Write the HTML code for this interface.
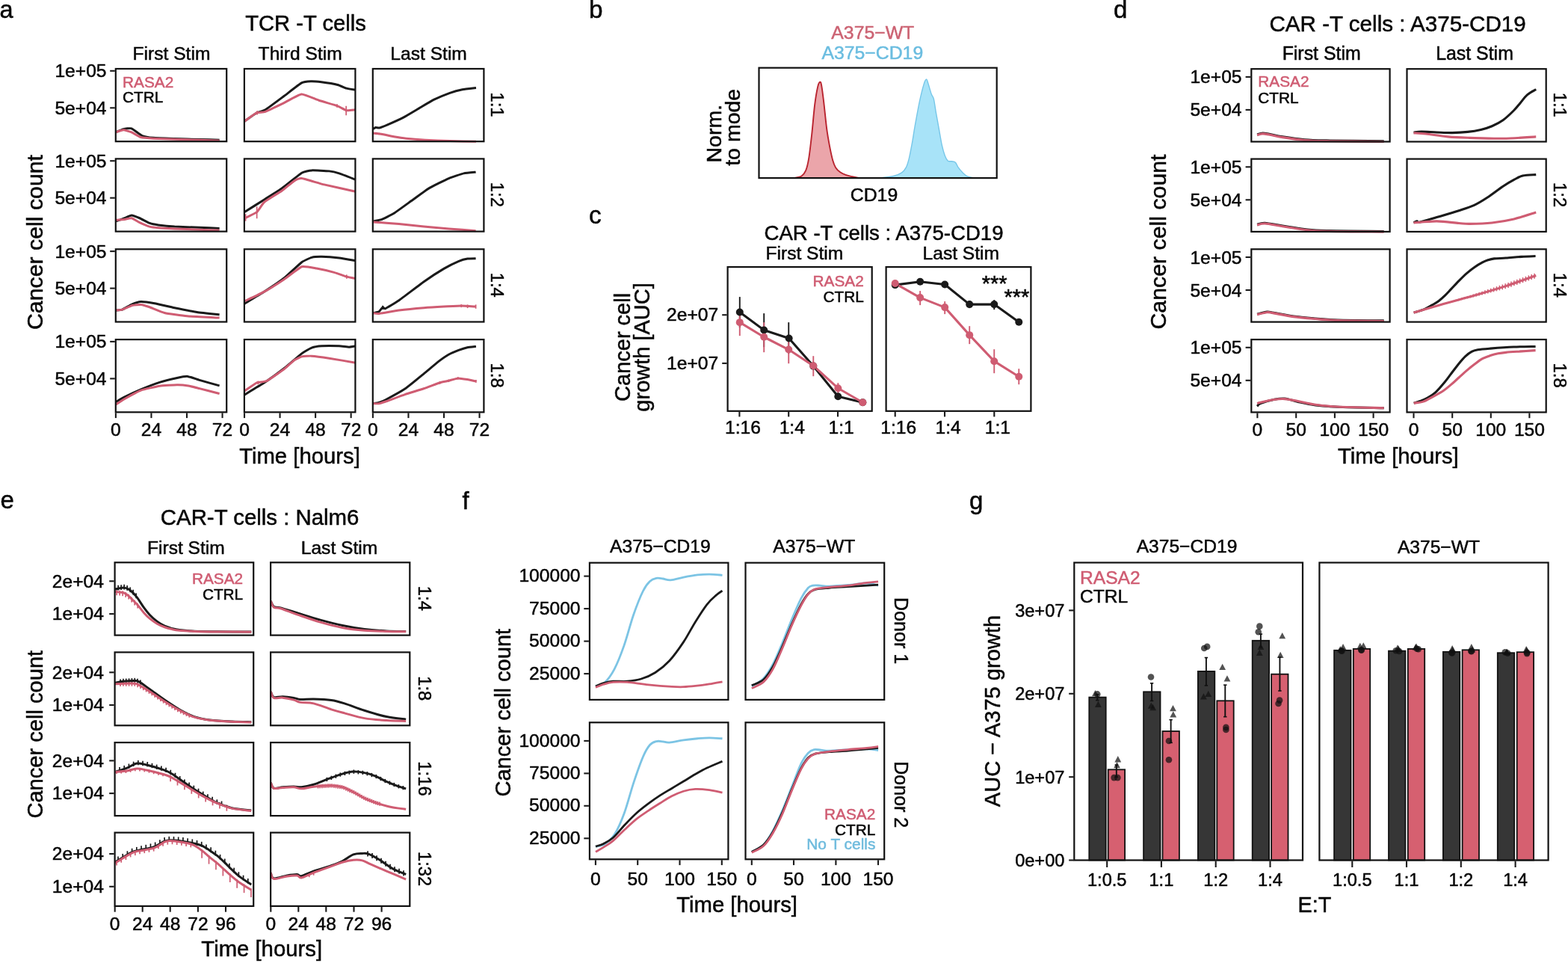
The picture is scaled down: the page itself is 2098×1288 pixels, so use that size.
<!DOCTYPE html>
<html lang="en">
<head>
<meta charset="utf-8">
<title>Figure</title>
<style>
html,body{margin:0;padding:0;background:#fff;}
body{width:2098px;height:1288px;overflow:hidden;}
svg{display:block;font-family:'Liberation Sans', sans-serif;}
text{white-space:pre;}
</style>
</head>
<body>
<svg width="2098" height="1288" viewBox="0 0 2098 1288">
<rect x="0" y="0" width="2098" height="1288" fill="#ffffff"/>
<!-- panel a -->
<text x="-0.6" y="24.1" font-size="32.5" text-anchor="start" fill="#050505" stroke="#050505" stroke-width="0.5">a</text>
<text x="409" y="41" font-size="29.2" text-anchor="middle" fill="#050505" stroke="#050505" stroke-width="0.5">TCR -T cells</text>
<text x="229.5" y="79.8" font-size="24.6" text-anchor="middle" fill="#050505" stroke="#050505" stroke-width="0.5">First Stim</text>
<text x="401.65" y="79.8" font-size="24.6" text-anchor="middle" fill="#050505" stroke="#050505" stroke-width="0.5">Third Stim</text>
<text x="573.6" y="79.8" font-size="24.6" text-anchor="middle" fill="#050505" stroke="#050505" stroke-width="0.5">Last Stim</text>
<line x1="147.2" y1="94.8" x2="153.8" y2="94.8" stroke="#1a1a1a" stroke-width="2.1"/>
<text x="142.5" y="103.3" font-size="24.6" text-anchor="end" fill="#050505" stroke="#050505" stroke-width="0.5">1e+05</text>
<line x1="147.2" y1="144.3" x2="153.8" y2="144.3" stroke="#1a1a1a" stroke-width="2.1"/>
<text x="142.5" y="152.8" font-size="24.6" text-anchor="end" fill="#050505" stroke="#050505" stroke-width="0.5">5e+04</text>
<text x="657.2" y="140" font-size="23.8" text-anchor="middle" fill="#050505" stroke="#050505" stroke-width="0.5" transform="rotate(90 657.2 140)">1:1</text>
<line x1="147.2" y1="215.2" x2="153.8" y2="215.2" stroke="#1a1a1a" stroke-width="2.1"/>
<text x="142.5" y="223.7" font-size="24.6" text-anchor="end" fill="#050505" stroke="#050505" stroke-width="0.5">1e+05</text>
<line x1="147.2" y1="264.7" x2="153.8" y2="264.7" stroke="#1a1a1a" stroke-width="2.1"/>
<text x="142.5" y="273.2" font-size="24.6" text-anchor="end" fill="#050505" stroke="#050505" stroke-width="0.5">5e+04</text>
<text x="657.2" y="260.4" font-size="23.8" text-anchor="middle" fill="#050505" stroke="#050505" stroke-width="0.5" transform="rotate(90 657.2 260.4)">1:2</text>
<line x1="147.2" y1="336.1" x2="153.8" y2="336.1" stroke="#1a1a1a" stroke-width="2.1"/>
<text x="142.5" y="344.6" font-size="24.6" text-anchor="end" fill="#050505" stroke="#050505" stroke-width="0.5">1e+05</text>
<line x1="147.2" y1="385.6" x2="153.8" y2="385.6" stroke="#1a1a1a" stroke-width="2.1"/>
<text x="142.5" y="394.1" font-size="24.6" text-anchor="end" fill="#050505" stroke="#050505" stroke-width="0.5">5e+04</text>
<text x="657.2" y="381.3" font-size="23.8" text-anchor="middle" fill="#050505" stroke="#050505" stroke-width="0.5" transform="rotate(90 657.2 381.3)">1:4</text>
<line x1="147.2" y1="456.9" x2="153.8" y2="456.9" stroke="#1a1a1a" stroke-width="2.1"/>
<text x="142.5" y="465.4" font-size="24.6" text-anchor="end" fill="#050505" stroke="#050505" stroke-width="0.5">1e+05</text>
<line x1="147.2" y1="506.4" x2="153.8" y2="506.4" stroke="#1a1a1a" stroke-width="2.1"/>
<text x="142.5" y="514.9" font-size="24.6" text-anchor="end" fill="#050505" stroke="#050505" stroke-width="0.5">5e+04</text>
<text x="657.2" y="502.1" font-size="23.8" text-anchor="middle" fill="#050505" stroke="#050505" stroke-width="0.5" transform="rotate(90 657.2 502.1)">1:8</text>
<line x1="154.9" y1="552.3" x2="154.9" y2="559.1" stroke="#1a1a1a" stroke-width="2.1"/>
<text x="154.9" y="583.3" font-size="24.6" text-anchor="middle" fill="#050505" stroke="#050505" stroke-width="0.5">0</text>
<line x1="202.45" y1="552.3" x2="202.45" y2="559.1" stroke="#1a1a1a" stroke-width="2.1"/>
<text x="202.45" y="583.3" font-size="24.6" text-anchor="middle" fill="#050505" stroke="#050505" stroke-width="0.5">24</text>
<line x1="250" y1="552.3" x2="250" y2="559.1" stroke="#1a1a1a" stroke-width="2.1"/>
<text x="250" y="583.3" font-size="24.6" text-anchor="middle" fill="#050505" stroke="#050505" stroke-width="0.5">48</text>
<line x1="297.55" y1="552.3" x2="297.55" y2="559.1" stroke="#1a1a1a" stroke-width="2.1"/>
<text x="297.55" y="583.3" font-size="24.6" text-anchor="middle" fill="#050505" stroke="#050505" stroke-width="0.5">72</text>
<line x1="327" y1="552.3" x2="327" y2="559.1" stroke="#1a1a1a" stroke-width="2.1"/>
<text x="327" y="583.3" font-size="24.6" text-anchor="middle" fill="#050505" stroke="#050505" stroke-width="0.5">0</text>
<line x1="374.55" y1="552.3" x2="374.55" y2="559.1" stroke="#1a1a1a" stroke-width="2.1"/>
<text x="374.55" y="583.3" font-size="24.6" text-anchor="middle" fill="#050505" stroke="#050505" stroke-width="0.5">24</text>
<line x1="422.1" y1="552.3" x2="422.1" y2="559.1" stroke="#1a1a1a" stroke-width="2.1"/>
<text x="422.1" y="583.3" font-size="24.6" text-anchor="middle" fill="#050505" stroke="#050505" stroke-width="0.5">48</text>
<line x1="469.65" y1="552.3" x2="469.65" y2="559.1" stroke="#1a1a1a" stroke-width="2.1"/>
<text x="469.65" y="583.3" font-size="24.6" text-anchor="middle" fill="#050505" stroke="#050505" stroke-width="0.5">72</text>
<line x1="498.9" y1="552.3" x2="498.9" y2="559.1" stroke="#1a1a1a" stroke-width="2.1"/>
<text x="498.9" y="583.3" font-size="24.6" text-anchor="middle" fill="#050505" stroke="#050505" stroke-width="0.5">0</text>
<line x1="546.45" y1="552.3" x2="546.45" y2="559.1" stroke="#1a1a1a" stroke-width="2.1"/>
<text x="546.45" y="583.3" font-size="24.6" text-anchor="middle" fill="#050505" stroke="#050505" stroke-width="0.5">24</text>
<line x1="594" y1="552.3" x2="594" y2="559.1" stroke="#1a1a1a" stroke-width="2.1"/>
<text x="594" y="583.3" font-size="24.6" text-anchor="middle" fill="#050505" stroke="#050505" stroke-width="0.5">48</text>
<line x1="641.55" y1="552.3" x2="641.55" y2="559.1" stroke="#1a1a1a" stroke-width="2.1"/>
<text x="641.55" y="583.3" font-size="24.6" text-anchor="middle" fill="#050505" stroke="#050505" stroke-width="0.5">72</text>
<text x="401" y="620.3" font-size="29.3" text-anchor="middle" fill="#050505" stroke="#050505" stroke-width="0.5">Time [hours]</text>
<text x="56.8" y="324" font-size="30.3" text-anchor="middle" fill="#050505" stroke="#050505" stroke-width="0.5" transform="rotate(-90 56.8 324)">Cancer cell count</text>
<text x="164" y="116.5" font-size="20.8" text-anchor="start" fill="#cf5c72" stroke="#cf5c72" stroke-width="0.5">RASA2</text>
<text x="164" y="137.2" font-size="20.8" text-anchor="start" fill="#050505" stroke="#050505" stroke-width="0.5">CTRL</text>
<path d="M155.15,176.84 C155.88,176.53 163.63,173.03 165.16,172.66 C166.69,172.3 174.17,171.18 176,171.83 C177.84,172.48 188.04,180.59 190.18,181.51 C192.32,182.42 202.01,184.05 205.2,184.34 C208.38,184.64 229.03,185.35 233.56,185.51 C238.08,185.67 262.52,186.39 266.92,186.51 C271.33,186.63 291.66,187.13 293.61,187.18" fill="none" stroke="#1a1a1a" stroke-width="3" stroke-linejoin="round" stroke-linecap="butt"/>
<path d="M155.15,176.84 C155.88,176.61 163.63,173.83 165.16,173.83 C166.69,173.83 174.29,176.13 176,176.84 C177.71,177.54 186.37,182.9 188.51,183.51 C190.65,184.12 201.89,184.97 205.2,185.18 C208.5,185.38 229.03,186.19 233.56,186.34 C238.08,186.5 262.52,187.21 266.92,187.35 C271.33,187.48 291.66,188.12 293.61,188.18" fill="none" stroke="#cf5c72" stroke-width="3" stroke-linejoin="round" stroke-linecap="butt"/>
<path d="M327.18,162.15 C328.37,161.33 341.32,152.1 343.37,150.98 C345.41,149.85 352.35,148.46 355.04,146.81 C357.73,145.15 376.52,131.09 380.07,128.46 C383.61,125.83 400.79,112.38 403.42,110.94 C406.05,109.5 413.98,108.86 415.93,108.77 C417.89,108.68 427.48,109.43 430.11,109.77 C432.74,110.11 449.35,112.83 451.8,113.44 C454.25,114.05 461.77,117.62 463.48,118.11 C465.19,118.6 474.3,119.97 475.16,120.11" fill="none" stroke="#1a1a1a" stroke-width="3" stroke-linejoin="round" stroke-linecap="butt"/>
<path d="M327.18,162.15 C328.37,161.33 341.32,151.92 343.37,150.98 C345.41,150.04 352.35,150.29 355.04,149.31 C357.73,148.33 376.52,139.34 380.07,137.63 C383.61,135.92 400,126.2 403.42,125.95 C406.85,125.71 423.23,133.13 426.78,134.29 C430.33,135.46 449.11,140.82 451.8,141.8 C454.49,142.78 461.77,147.27 463.48,147.64 C465.19,148.01 474.3,146.87 475.16,146.81" fill="none" stroke="#cf5c72" stroke-width="3" stroke-linejoin="round" stroke-linecap="butt"/>
<line x1="344.2" y1="148.14" x2="344.2" y2="153.48" stroke="#cf5c72" stroke-width="1.7"/>
<line x1="450.97" y1="139.3" x2="450.97" y2="143.8" stroke="#cf5c72" stroke-width="1.7"/>
<line x1="463.15" y1="141.8" x2="463.15" y2="154.31" stroke="#cf5c72" stroke-width="1.7"/>
<path d="M499.01,172.66 C499.28,172.51 502.05,170.62 502.68,170.5 C503.32,170.37 506.53,171.27 507.69,171 C508.85,170.73 516.15,167.87 518.53,166.83 C520.92,165.79 537.16,158.41 540.22,156.82 C543.28,155.23 557.3,146.85 560.24,145.14 C563.17,143.43 577.2,134.99 580.26,133.46 C583.32,131.93 599.13,125.29 601.94,124.29 C604.76,123.28 616.06,120.27 618.63,119.78 C621.2,119.29 635.63,117.77 636.98,117.61" fill="none" stroke="#1a1a1a" stroke-width="3" stroke-linejoin="round" stroke-linecap="butt"/>
<path d="M499.01,178.17 C499.83,178.26 508.15,179.01 510.19,179.34 C512.23,179.67 524.43,182.25 526.87,182.67 C529.32,183.1 540.5,184.85 543.56,185.18 C546.61,185.51 564.3,186.93 568.58,187.18 C572.86,187.42 596.93,188.35 601.94,188.51 C606.96,188.67 634.41,189.29 636.98,189.35" fill="none" stroke="#cf5c72" stroke-width="3" stroke-linejoin="round" stroke-linecap="butt"/>
<line x1="503.52" y1="176.84" x2="503.52" y2="180.17" stroke="#cf5c72" stroke-width="1.7"/>
<path d="M155.15,295.92 C156,295.62 165.3,292.33 166.83,291.75 C168.35,291.18 174.53,288.08 176,288.08 C177.47,288.08 185.07,291 186.84,291.75 C188.62,292.51 198.36,297.75 200.19,298.43 C202.03,299.1 209.42,300.59 211.87,300.93 C214.32,301.27 229.52,302.85 233.56,303.1 C237.59,303.34 262.52,304.09 266.92,304.27 C271.33,304.44 291.66,305.35 293.61,305.43" fill="none" stroke="#1a1a1a" stroke-width="3" stroke-linejoin="round" stroke-linecap="butt"/>
<path d="M155.15,294.26 C156,294.2 165.3,293.61 166.83,293.42 C168.35,293.24 174.53,291.45 176,291.75 C177.47,292.06 185.07,296.76 186.84,297.59 C188.62,298.42 198.36,302.57 200.19,303.1 C202.03,303.62 209.42,304.56 211.87,304.77 C214.32,304.97 229.52,305.75 233.56,305.93 C237.59,306.12 262.52,307.11 266.92,307.27 C271.33,307.43 291.66,308.04 293.61,308.1" fill="none" stroke="#cf5c72" stroke-width="3" stroke-linejoin="round" stroke-linecap="butt"/>
<path d="M327.31,283.6 C329.24,282.38 350.02,269.25 353.67,266.92 C357.32,264.6 373.36,254.52 377.03,251.91 C380.7,249.29 400.78,232.98 403.72,231.22 C406.65,229.46 414.37,228.05 417.06,227.88 C419.76,227.71 437.73,228.59 440.42,228.88 C443.11,229.18 451.17,231.06 453.77,231.89 C456.36,232.72 474.17,239.62 475.79,240.23" fill="none" stroke="#1a1a1a" stroke-width="3" stroke-linejoin="round" stroke-linecap="butt"/>
<path d="M327.31,291.94 C328.51,291.33 341.73,285.19 343.66,283.6 C345.59,282.01 351.22,272.34 353.67,270.26 C356.12,268.18 374.09,257.32 377.03,255.24 C379.96,253.16 391.75,243.12 393.71,241.9 C395.67,240.67 400.78,238.19 403.72,238.56 C406.65,238.93 428.46,245.61 433.75,246.9 C439.03,248.2 472.7,255.56 475.79,256.24" fill="none" stroke="#cf5c72" stroke-width="3" stroke-linejoin="round" stroke-linecap="butt"/>
<line x1="328.65" y1="286.27" x2="328.65" y2="295.61" stroke="#cf5c72" stroke-width="1.7"/>
<line x1="343.66" y1="276.26" x2="343.66" y2="292.28" stroke="#cf5c72" stroke-width="1.7"/>
<path d="M499.48,295.95 C500.28,295.78 508.46,294.4 510.49,293.61 C512.52,292.83 524.23,287.11 527.17,285.27 C530.1,283.44 547.1,271.04 550.52,268.59 C553.95,266.14 570.21,254.11 573.88,251.91 C577.55,249.7 597.15,240.03 600.57,238.56 C604,237.09 617.95,232.5 620.59,231.89 C623.23,231.28 635.43,230.34 636.61,230.22" fill="none" stroke="#1a1a1a" stroke-width="3" stroke-linejoin="round" stroke-linecap="butt"/>
<path d="M499.48,296.95 C502,297.15 528.87,299.18 533.84,299.62 C538.81,300.06 562.31,302.49 567.21,302.96 C572.1,303.42 595.48,305.54 600.57,305.96 C605.66,306.37 633.96,308.43 636.61,308.63" fill="none" stroke="#cf5c72" stroke-width="3" stroke-linejoin="round" stroke-linecap="butt"/>
<path d="M154.81,415.11 C155.45,415.04 161.87,414.72 163.49,414.11 C165.1,413.5 175,407.55 176.84,406.77 C178.67,405.99 186.31,403.51 188.51,403.43 C190.71,403.36 203.56,405.16 206.86,405.77 C210.17,406.38 229.4,410.92 233.56,411.77 C237.72,412.63 259.18,416.78 263.58,417.45 C267.99,418.11 291.41,420.54 293.61,420.78" fill="none" stroke="#1a1a1a" stroke-width="3" stroke-linejoin="round" stroke-linecap="butt"/>
<path d="M154.81,415.11 C155.45,415.04 161.87,414.6 163.49,414.11 C165.1,413.62 175,408.93 176.84,408.44 C178.67,407.95 186.8,407.26 188.51,407.44 C190.23,407.61 197.87,409.96 200.19,410.77 C202.52,411.58 216.54,417.57 220.21,418.45 C223.88,419.33 244.86,422.29 250.24,422.78 C255.62,423.27 290.43,424.95 293.61,425.12" fill="none" stroke="#cf5c72" stroke-width="3" stroke-linejoin="round" stroke-linecap="butt"/>
<path d="M327.31,406.1 C329.24,404.93 349.78,392.61 353.67,390.09 C357.56,387.57 376.69,374.62 380.36,371.73 C384.03,368.85 401.03,352.72 403.72,350.71 C406.41,348.71 415.11,344.91 417.06,344.38 C419.02,343.84 427.72,343.33 430.41,343.37 C433.1,343.42 450.44,344.65 453.77,345.04 C457.09,345.43 474.17,348.44 475.79,348.71" fill="none" stroke="#1a1a1a" stroke-width="3" stroke-linejoin="round" stroke-linecap="butt"/>
<path d="M327.31,402.76 C329.24,401.83 349.78,392.24 353.67,390.09 C357.56,387.93 376.69,375.85 380.36,373.4 C384.03,370.96 400.54,357.77 403.72,356.72 C406.9,355.67 420.56,358.49 423.74,359.06 C426.92,359.62 444.16,363.59 447.09,364.39 C450.03,365.2 461.67,369.48 463.78,370.07 C465.88,370.65 474.91,372.23 475.79,372.4" fill="none" stroke="#cf5c72" stroke-width="3" stroke-linejoin="round" stroke-linecap="butt"/>
<line x1="463.78" y1="367.4" x2="463.78" y2="372.74" stroke="#cf5c72" stroke-width="1.7"/>
<path d="M499.48,418.78 C500.04,418.63 506.22,417.37 507.15,416.78 C508.08,416.19 511.54,411.07 512.15,410.77 C512.77,410.48 513.9,413.43 515.49,412.77 C517.08,412.11 530.05,404.41 533.84,401.76 C537.63,399.12 562.8,379.85 567.21,376.74 C571.61,373.63 590.47,361.4 593.9,359.39 C597.32,357.38 611.59,350.36 613.92,349.38 C616.24,348.4 623.93,346.31 625.6,346.04 C627.26,345.77 635.8,345.73 636.61,345.71" fill="none" stroke="#1a1a1a" stroke-width="3" stroke-linejoin="round" stroke-linecap="butt"/>
<path d="M499.48,418.78 C500.04,418.83 504.63,419.72 507.15,419.45 C509.67,419.18 529.44,415.67 533.84,415.11 C538.25,414.55 562.8,412.14 567.21,411.77 C571.61,411.41 590.23,410.3 593.9,410.1 C597.57,409.91 614.12,409.1 617.25,409.1 C620.39,409.1 635.19,410.03 636.61,410.1" fill="none" stroke="#cf5c72" stroke-width="3" stroke-linejoin="round" stroke-linecap="butt"/>
<line x1="512.15" y1="408.77" x2="512.15" y2="414.11" stroke="#1a1a1a" stroke-width="1.7"/>
<line x1="617.25" y1="407.1" x2="617.25" y2="411.11" stroke="#cf5c72" stroke-width="1.7"/>
<line x1="625.6" y1="407.44" x2="625.6" y2="412.11" stroke="#cf5c72" stroke-width="1.7"/>
<line x1="636.61" y1="407.44" x2="636.61" y2="412.77" stroke="#cf5c72" stroke-width="1.7"/>
<path d="M155.15,537.61 C156,537.12 164.38,532.16 166.83,530.94 C169.27,529.72 185.09,522.36 188.51,520.93 C191.94,519.5 209.99,512.56 213.54,511.42 C217.08,510.28 234.14,506 236.89,505.41 C239.64,504.83 248.87,503.19 251.07,503.41 C253.27,503.63 263.8,507.5 266.92,508.42 C270.04,509.34 291.66,515.37 293.61,515.92" fill="none" stroke="#1a1a1a" stroke-width="3" stroke-linejoin="round" stroke-linecap="butt"/>
<path d="M155.15,540.95 C156,540.4 164.38,534.82 166.83,533.44 C169.27,532.06 185.09,523.36 188.51,522.1 C191.94,520.84 209.99,516.8 213.54,516.26 C217.08,515.72 234.08,514.78 236.89,514.76 C239.71,514.73 249.7,515.57 251.91,515.92 C254.11,516.28 263.86,518.82 266.92,519.59 C269.98,520.37 291.66,525.93 293.61,526.43" fill="none" stroke="#cf5c72" stroke-width="3" stroke-linejoin="round" stroke-linecap="butt"/>
<path d="M327.31,527.88 C329.24,526.71 349.78,514.46 353.67,511.87 C357.56,509.27 376.69,495.38 380.36,492.52 C384.03,489.65 401.03,474.84 403.72,472.83 C406.41,470.82 415.11,465.89 417.06,465.16 C419.02,464.42 427.72,462.99 430.41,462.82 C433.1,462.65 451.07,462.72 453.77,462.82 C456.46,462.92 465.5,464.16 467.11,464.16 C468.73,464.16 475.15,462.92 475.79,462.82" fill="none" stroke="#1a1a1a" stroke-width="3" stroke-linejoin="round" stroke-linecap="butt"/>
<path d="M327.31,522.88 C328.51,522.07 341.48,512.85 343.66,511.87 C345.84,510.89 354.32,510.88 357.01,509.53 C359.7,508.19 377.67,495.55 380.36,493.52 C383.05,491.49 392,483.06 393.71,481.84 C395.42,480.62 402.01,477.25 403.72,476.84 C405.43,476.42 414.37,476 417.06,476.17 C419.76,476.34 436.11,478.51 440.42,479.17 C444.73,479.83 473.19,484.74 475.79,485.18" fill="none" stroke="#cf5c72" stroke-width="3" stroke-linejoin="round" stroke-linecap="butt"/>
<line x1="345.33" y1="509.53" x2="345.33" y2="514.2" stroke="#cf5c72" stroke-width="1.7"/>
<path d="M498.98,539.78 C499.55,539.68 505.51,538.85 506.82,538.45 C508.13,538.04 514.26,535.62 516.83,534.28 C519.39,532.93 538.18,522.6 541.85,520.1 C545.52,517.59 563.57,502.77 566.87,500.08 C570.18,497.38 584.45,485.29 586.89,483.39 C589.34,481.5 598.28,475.32 600.24,474.22 C602.2,473.12 611.75,469.08 613.58,468.38 C615.42,467.68 623.55,465.08 625.26,464.71 C626.97,464.34 636.08,463.47 636.94,463.37" fill="none" stroke="#1a1a1a" stroke-width="3" stroke-linejoin="round" stroke-linecap="butt"/>
<path d="M498.98,539.78 C499.55,539.78 505.51,540 506.82,539.78 C508.13,539.56 514.26,537.67 516.83,536.78 C519.39,535.88 538.18,528.85 541.85,527.6 C545.52,526.35 563.45,520.92 566.87,519.76 C570.3,518.6 586.11,512.52 588.56,511.75 C591.01,510.98 598.46,509.68 600.24,509.25 C602.01,508.82 610.92,506.04 612.75,505.92 C614.59,505.79 623.49,507.28 625.26,507.58 C627.04,507.89 636.08,509.9 636.94,510.09" fill="none" stroke="#cf5c72" stroke-width="3" stroke-linejoin="round" stroke-linecap="butt"/>
<line x1="588.56" y1="510.09" x2="588.56" y2="513.76" stroke="#cf5c72" stroke-width="1.7"/>
<line x1="600.24" y1="507.58" x2="600.24" y2="511.09" stroke="#cf5c72" stroke-width="1.7"/>
<line x1="612.75" y1="504.25" x2="612.75" y2="507.58" stroke="#cf5c72" stroke-width="1.7"/>
<line x1="636.94" y1="508.08" x2="636.94" y2="511.75" stroke="#cf5c72" stroke-width="1.7"/>
<rect x="154.8" y="92" width="148.4" height="97.2" fill="none" stroke="#111111" stroke-width="2.2"/>
<rect x="326.9" y="92" width="148.5" height="97.2" fill="none" stroke="#111111" stroke-width="2.2"/>
<rect x="498.8" y="92" width="148.6" height="97.2" fill="none" stroke="#111111" stroke-width="2.2"/>
<rect x="154.8" y="212.4" width="148.4" height="97.2" fill="none" stroke="#111111" stroke-width="2.2"/>
<rect x="326.9" y="212.4" width="148.5" height="97.2" fill="none" stroke="#111111" stroke-width="2.2"/>
<rect x="498.8" y="212.4" width="148.6" height="97.2" fill="none" stroke="#111111" stroke-width="2.2"/>
<rect x="154.8" y="333.3" width="148.4" height="97.2" fill="none" stroke="#111111" stroke-width="2.2"/>
<rect x="326.9" y="333.3" width="148.5" height="97.2" fill="none" stroke="#111111" stroke-width="2.2"/>
<rect x="498.8" y="333.3" width="148.6" height="97.2" fill="none" stroke="#111111" stroke-width="2.2"/>
<rect x="154.8" y="454.1" width="148.4" height="97.2" fill="none" stroke="#111111" stroke-width="2.2"/>
<rect x="326.9" y="454.1" width="148.5" height="97.2" fill="none" stroke="#111111" stroke-width="2.2"/>
<rect x="498.8" y="454.1" width="148.6" height="97.2" fill="none" stroke="#111111" stroke-width="2.2"/>
<!-- panel b -->
<text x="788" y="24.3" font-size="33.3" text-anchor="start" fill="#050505" stroke="#050505" stroke-width="0.5">b</text>
<text x="1167.8" y="51.6" font-size="24.8" text-anchor="middle" fill="#cc6373" stroke="#cc6373" stroke-width="0.5">A375−WT</text>
<text x="1167.3" y="79.1" font-size="24.8" text-anchor="middle" fill="#6bbde0" stroke="#6bbde0" stroke-width="0.5">A375−CD19</text>
<text x="1169.5" y="268.9" font-size="24.8" text-anchor="middle" fill="#050505" stroke="#050505" stroke-width="0.5">CD19</text>
<text x="965" y="178.7" font-size="28.5" text-anchor="middle" fill="#050505" stroke="#050505" stroke-width="0.5" transform="rotate(-90 965 178.7)">Norm.</text>
<text x="990" y="170.3" font-size="28.5" text-anchor="middle" fill="#050505" stroke="#050505" stroke-width="0.5" transform="rotate(-90 990 170.3)">to mode</text>
<path d="M1064.12,237.61 C1065.45,237.31 1069.79,237.37 1072.13,235.81 C1074.46,234.24 1076.46,232.14 1078.13,228.2 C1079.8,224.26 1080.8,220.19 1082.14,212.18 C1083.47,204.18 1084.8,192.16 1086.14,180.15 C1087.47,168.14 1088.81,150.79 1090.14,140.11 C1091.48,129.44 1092.98,121.16 1094.15,116.09 C1095.31,111.02 1096.32,110.02 1097.15,109.69 C1097.98,109.35 1098.32,109.69 1099.15,114.09 C1099.99,118.49 1100.99,126.43 1102.15,136.11 C1103.32,145.79 1104.82,162.14 1106.16,172.14 C1107.49,182.15 1108.83,189.16 1110.16,196.17 C1111.5,203.17 1112.83,209.51 1114.17,214.18 C1115.5,218.86 1116.5,221.53 1118.17,224.19 C1119.84,226.86 1121.84,228.53 1124.18,230.2 C1126.51,231.87 1129.51,233.2 1132.18,234.2 C1134.85,235.2 1137.52,235.64 1140.19,236.21 C1142.86,236.77 1146.86,237.37 1148.2,237.61" fill="#eba5aa" stroke="#b9242f" stroke-width="1.9" stroke-linejoin="round" stroke-linecap="butt" />
<path d="M1180.23,237.61 C1182.9,237.21 1191.91,236.27 1196.24,235.2 C1200.58,234.14 1203.58,233.04 1206.25,231.2 C1208.92,229.37 1210.59,227.36 1212.26,224.19 C1213.93,221.02 1214.93,217.52 1216.26,212.18 C1217.6,206.84 1218.93,199.5 1220.27,192.16 C1221.6,184.82 1222.6,177.48 1224.27,168.14 C1225.94,158.8 1228.27,145.45 1230.28,136.11 C1232.28,126.77 1234.71,117.09 1236.28,112.09 C1237.85,107.08 1238.68,105.92 1239.69,106.08 C1240.69,106.25 1241.19,109.75 1242.29,113.09 C1243.39,116.43 1245.12,122.93 1246.29,126.1 C1247.46,129.27 1248.29,128.1 1249.29,132.11 C1250.3,136.11 1251.13,143.45 1252.3,150.12 C1253.47,156.8 1254.97,164.8 1256.3,172.14 C1257.64,179.49 1258.97,188.16 1260.31,194.17 C1261.64,200.17 1262.97,204.68 1264.31,208.18 C1265.64,211.68 1266.81,213.92 1268.31,215.19 C1269.81,216.45 1271.65,215.45 1273.32,215.79 C1274.99,216.12 1276.82,215.79 1278.32,217.19 C1279.82,218.59 1280.66,221.86 1282.33,224.19 C1283.99,226.53 1286.33,229.27 1288.33,231.2 C1290.33,233.14 1292,234.74 1294.34,235.81 C1296.67,236.87 1301.01,237.31 1302.35,237.61" fill="#a8e3f8" stroke="#76c6e8" stroke-width="1.4" stroke-linejoin="round" stroke-linecap="butt"/>
<rect x="1015.5" y="90.7" width="318.2" height="147.4" fill="none" stroke="#111111" stroke-width="2.2"/>
<!-- panel c -->
<text x="788" y="299.2" font-size="33.3" text-anchor="start" fill="#050505" stroke="#050505" stroke-width="0.5">c</text>
<text x="1022.5" y="321" font-size="27.6" text-anchor="start" fill="#050505" stroke="#050505" stroke-width="0.5">CAR -T cells : A375-CD19</text>
<text x="1076.4" y="346.5" font-size="24.6" text-anchor="middle" fill="#050505" stroke="#050505" stroke-width="0.5">First Stim</text>
<text x="1285.8" y="346.5" font-size="24.6" text-anchor="middle" fill="#050505" stroke="#050505" stroke-width="0.5">Last Stim</text>
<line x1="966.2" y1="421.2" x2="972.6" y2="421.2" stroke="#1a1a1a" stroke-width="2.1"/>
<text x="961.2" y="429.1" font-size="24.6" text-anchor="end" fill="#050505" stroke="#050505" stroke-width="0.5">2e+07</text>
<line x1="966.2" y1="485.9" x2="972.6" y2="485.9" stroke="#1a1a1a" stroke-width="2.1"/>
<text x="961.2" y="493.8" font-size="24.6" text-anchor="end" fill="#050505" stroke="#050505" stroke-width="0.5">1e+07</text>
<line x1="989.4" y1="550.8" x2="989.4" y2="557.4" stroke="#1a1a1a" stroke-width="2.1"/>
<text x="994" y="579.9" font-size="24.6" text-anchor="middle" fill="#050505" stroke="#050505" stroke-width="0.5">1:16</text>
<line x1="1055.2" y1="550.8" x2="1055.2" y2="557.4" stroke="#1a1a1a" stroke-width="2.1"/>
<text x="1059.8" y="579.9" font-size="24.6" text-anchor="middle" fill="#050505" stroke="#050505" stroke-width="0.5">1:4</text>
<line x1="1121" y1="550.8" x2="1121" y2="557.4" stroke="#1a1a1a" stroke-width="2.1"/>
<text x="1125.6" y="579.9" font-size="24.6" text-anchor="middle" fill="#050505" stroke="#050505" stroke-width="0.5">1:1</text>
<line x1="1197.7" y1="550.8" x2="1197.7" y2="557.4" stroke="#1a1a1a" stroke-width="2.1"/>
<text x="1202.3" y="579.9" font-size="24.6" text-anchor="middle" fill="#050505" stroke="#050505" stroke-width="0.5">1:16</text>
<line x1="1264" y1="550.8" x2="1264" y2="557.4" stroke="#1a1a1a" stroke-width="2.1"/>
<text x="1268.6" y="579.9" font-size="24.6" text-anchor="middle" fill="#050505" stroke="#050505" stroke-width="0.5">1:4</text>
<line x1="1330.3" y1="550.8" x2="1330.3" y2="557.4" stroke="#1a1a1a" stroke-width="2.1"/>
<text x="1334.9" y="579.9" font-size="24.6" text-anchor="middle" fill="#050505" stroke="#050505" stroke-width="0.5">1:1</text>
<text x="842.8" y="464.4" font-size="29" text-anchor="middle" fill="#050505" stroke="#050505" stroke-width="0.5" transform="rotate(-90 842.8 464.4)">Cancer cell</text>
<text x="868.6" y="464.4" font-size="29" text-anchor="middle" fill="#050505" stroke="#050505" stroke-width="0.5" transform="rotate(-90 868.6 464.4)">growth [AUC]</text>
<text x="1155.8" y="382.5" font-size="20.8" text-anchor="end" fill="#cf5c72" stroke="#cf5c72" stroke-width="0.5">RASA2</text>
<text x="1155.8" y="403.8" font-size="20.8" text-anchor="end" fill="#050505" stroke="#050505" stroke-width="0.5">CTRL</text>
<text x="1330.7" y="388.8" font-size="29" text-anchor="middle" fill="#050505" stroke="#050505" stroke-width="0.5">***</text>
<text x="1360.4" y="406.8" font-size="29" text-anchor="middle" fill="#050505" stroke="#050505" stroke-width="0.5">***</text>
<line x1="989.78" y1="397.1" x2="989.78" y2="438.14" stroke="#1a1a1a" stroke-width="1.9"/>
<line x1="1022.21" y1="419.12" x2="1022.21" y2="464.17" stroke="#1a1a1a" stroke-width="1.9"/>
<line x1="1055.24" y1="431.13" x2="1055.24" y2="473.17" stroke="#1a1a1a" stroke-width="1.9"/>
<line x1="989.78" y1="414.12" x2="989.78" y2="449.15" stroke="#cf5c72" stroke-width="1.9"/>
<line x1="1022.21" y1="431.13" x2="1022.21" y2="471.17" stroke="#cf5c72" stroke-width="1.9"/>
<line x1="1055.24" y1="450.15" x2="1055.24" y2="486.19" stroke="#cf5c72" stroke-width="1.9"/>
<line x1="1088.27" y1="476.18" x2="1088.27" y2="503.2" stroke="#cf5c72" stroke-width="1.9"/>
<line x1="1121.31" y1="512.21" x2="1121.31" y2="526.22" stroke="#cf5c72" stroke-width="1.9"/>
<line x1="1297.21" y1="402.11" x2="1297.21" y2="412.12" stroke="#1a1a1a" stroke-width="1.9"/>
<line x1="1330.24" y1="401.11" x2="1330.24" y2="414.12" stroke="#1a1a1a" stroke-width="1.9"/>
<line x1="1231.14" y1="389.09" x2="1231.14" y2="408.11" stroke="#cf5c72" stroke-width="1.9"/>
<line x1="1264.18" y1="403.11" x2="1264.18" y2="420.12" stroke="#cf5c72" stroke-width="1.9"/>
<line x1="1297.21" y1="436.14" x2="1297.21" y2="460.16" stroke="#cf5c72" stroke-width="1.9"/>
<line x1="1330.24" y1="467.17" x2="1330.24" y2="499.2" stroke="#cf5c72" stroke-width="1.9"/>
<line x1="1363.27" y1="493.19" x2="1363.27" y2="514.21" stroke="#cf5c72" stroke-width="1.9"/>
<polyline points="989.78,417.52 1022.21,441.54 1055.64,452.55 1088.27,489.59 1121.31,530.23 1154.34,538.24" fill="none" stroke="#1a1a1a" stroke-width="3.1" stroke-linejoin="round" stroke-linecap="butt"/>
<polyline points="989.78,431.13 1022.21,450.75 1055.24,467.57 1088.27,489.19 1121.31,519.22 1154.34,538.24" fill="none" stroke="#cf5c72" stroke-width="3.1" stroke-linejoin="round" stroke-linecap="butt"/>
<polyline points="1197.71,381.09 1231.14,376.68 1264.18,380.49 1297.21,407.11 1330.24,407.11 1363.27,430.73" fill="none" stroke="#1a1a1a" stroke-width="3.1" stroke-linejoin="round" stroke-linecap="butt"/>
<polyline points="1197.71,379.08 1231.14,398.1 1264.18,411.12 1297.21,448.15 1330.24,483.18 1363.27,503.8" fill="none" stroke="#cf5c72" stroke-width="3.1" stroke-linejoin="round" stroke-linecap="butt"/>
<circle cx="989.78" cy="417.52" r="5" fill="#1a1a1a"/>
<circle cx="1022.21" cy="441.54" r="5" fill="#1a1a1a"/>
<circle cx="1055.64" cy="452.55" r="5" fill="#1a1a1a"/>
<circle cx="1088.27" cy="489.59" r="5" fill="#1a1a1a"/>
<circle cx="1121.31" cy="530.23" r="5" fill="#1a1a1a"/>
<circle cx="1154.34" cy="538.24" r="5" fill="#1a1a1a"/>
<circle cx="989.78" cy="431.13" r="5" fill="#cf5c72"/>
<circle cx="1022.21" cy="450.75" r="5" fill="#cf5c72"/>
<circle cx="1055.24" cy="467.57" r="5" fill="#cf5c72"/>
<circle cx="1088.27" cy="489.19" r="5" fill="#cf5c72"/>
<circle cx="1121.31" cy="519.22" r="5" fill="#cf5c72"/>
<circle cx="1154.34" cy="538.24" r="5" fill="#cf5c72"/>
<circle cx="1197.71" cy="381.09" r="5" fill="#1a1a1a"/>
<circle cx="1231.14" cy="376.68" r="5" fill="#1a1a1a"/>
<circle cx="1264.18" cy="380.49" r="5" fill="#1a1a1a"/>
<circle cx="1297.21" cy="407.11" r="5" fill="#1a1a1a"/>
<circle cx="1330.24" cy="407.11" r="5" fill="#1a1a1a"/>
<circle cx="1363.27" cy="430.73" r="5" fill="#1a1a1a"/>
<circle cx="1197.71" cy="379.08" r="5" fill="#cf5c72"/>
<circle cx="1231.14" cy="398.1" r="5" fill="#cf5c72"/>
<circle cx="1264.18" cy="411.12" r="5" fill="#cf5c72"/>
<circle cx="1297.21" cy="448.15" r="5" fill="#cf5c72"/>
<circle cx="1330.24" cy="483.18" r="5" fill="#cf5c72"/>
<circle cx="1363.27" cy="503.8" r="5" fill="#cf5c72"/>
<rect x="973.6" y="357.1" width="193.1" height="192.7" fill="none" stroke="#111111" stroke-width="2.2"/>
<rect x="1185.6" y="357.1" width="193.8" height="192.7" fill="none" stroke="#111111" stroke-width="2.2"/>
<!-- panel d -->
<text x="1490" y="23.6" font-size="33" text-anchor="start" fill="#050505" stroke="#050505" stroke-width="0.5">d</text>
<text x="1698.5" y="41.7" font-size="29.6" text-anchor="start" fill="#050505" stroke="#050505" stroke-width="0.5">CAR -T cells : A375-CD19</text>
<text x="1768.2" y="80.1" font-size="24.9" text-anchor="middle" fill="#050505" stroke="#050505" stroke-width="0.5">First Stim</text>
<text x="1973" y="80.1" font-size="24.9" text-anchor="middle" fill="#050505" stroke="#050505" stroke-width="0.5">Last Stim</text>
<line x1="1666.6" y1="102.9" x2="1673.3" y2="102.9" stroke="#1a1a1a" stroke-width="2.1"/>
<text x="1661.5" y="111.4" font-size="24.6" text-anchor="end" fill="#050505" stroke="#050505" stroke-width="0.5">1e+05</text>
<line x1="1666.6" y1="146.9" x2="1673.3" y2="146.9" stroke="#1a1a1a" stroke-width="2.1"/>
<text x="1661.5" y="155.4" font-size="24.6" text-anchor="end" fill="#050505" stroke="#050505" stroke-width="0.5">5e+04</text>
<text x="2079" y="140.25" font-size="23.8" text-anchor="middle" fill="#050505" stroke="#050505" stroke-width="0.5" transform="rotate(90 2079 140.25)">1:1</text>
<line x1="1666.6" y1="223.3" x2="1673.3" y2="223.3" stroke="#1a1a1a" stroke-width="2.1"/>
<text x="1661.5" y="231.8" font-size="24.6" text-anchor="end" fill="#050505" stroke="#050505" stroke-width="0.5">1e+05</text>
<line x1="1666.6" y1="267.3" x2="1673.3" y2="267.3" stroke="#1a1a1a" stroke-width="2.1"/>
<text x="1661.5" y="275.8" font-size="24.6" text-anchor="end" fill="#050505" stroke="#050505" stroke-width="0.5">5e+04</text>
<text x="2079" y="260.65" font-size="23.8" text-anchor="middle" fill="#050505" stroke="#050505" stroke-width="0.5" transform="rotate(90 2079 260.65)">1:2</text>
<line x1="1666.6" y1="344" x2="1673.3" y2="344" stroke="#1a1a1a" stroke-width="2.1"/>
<text x="1661.5" y="352.5" font-size="24.6" text-anchor="end" fill="#050505" stroke="#050505" stroke-width="0.5">1e+05</text>
<line x1="1666.6" y1="388" x2="1673.3" y2="388" stroke="#1a1a1a" stroke-width="2.1"/>
<text x="1661.5" y="396.5" font-size="24.6" text-anchor="end" fill="#050505" stroke="#050505" stroke-width="0.5">5e+04</text>
<text x="2079" y="381.35" font-size="23.8" text-anchor="middle" fill="#050505" stroke="#050505" stroke-width="0.5" transform="rotate(90 2079 381.35)">1:4</text>
<line x1="1666.6" y1="464.8" x2="1673.3" y2="464.8" stroke="#1a1a1a" stroke-width="2.1"/>
<text x="1661.5" y="473.3" font-size="24.6" text-anchor="end" fill="#050505" stroke="#050505" stroke-width="0.5">1e+05</text>
<line x1="1666.6" y1="508.8" x2="1673.3" y2="508.8" stroke="#1a1a1a" stroke-width="2.1"/>
<text x="1661.5" y="517.3" font-size="24.6" text-anchor="end" fill="#050505" stroke="#050505" stroke-width="0.5">5e+04</text>
<text x="2079" y="502.15" font-size="23.8" text-anchor="middle" fill="#050505" stroke="#050505" stroke-width="0.5" transform="rotate(90 2079 502.15)">1:8</text>
<line x1="1682.4" y1="552.4" x2="1682.4" y2="559.2" stroke="#1a1a1a" stroke-width="2.1"/>
<text x="1682.4" y="583.3" font-size="24.6" text-anchor="middle" fill="#050505" stroke="#050505" stroke-width="0.5">0</text>
<line x1="1734.2" y1="552.4" x2="1734.2" y2="559.2" stroke="#1a1a1a" stroke-width="2.1"/>
<text x="1734.2" y="583.3" font-size="24.6" text-anchor="middle" fill="#050505" stroke="#050505" stroke-width="0.5">50</text>
<line x1="1785.9" y1="552.4" x2="1785.9" y2="559.2" stroke="#1a1a1a" stroke-width="2.1"/>
<text x="1785.9" y="583.3" font-size="24.6" text-anchor="middle" fill="#050505" stroke="#050505" stroke-width="0.5">100</text>
<line x1="1837.6" y1="552.4" x2="1837.6" y2="559.2" stroke="#1a1a1a" stroke-width="2.1"/>
<text x="1837.6" y="583.3" font-size="24.6" text-anchor="middle" fill="#050505" stroke="#050505" stroke-width="0.5">150</text>
<line x1="1891.5" y1="552.4" x2="1891.5" y2="559.2" stroke="#1a1a1a" stroke-width="2.1"/>
<text x="1891.5" y="583.3" font-size="24.6" text-anchor="middle" fill="#050505" stroke="#050505" stroke-width="0.5">0</text>
<line x1="1943.2" y1="552.4" x2="1943.2" y2="559.2" stroke="#1a1a1a" stroke-width="2.1"/>
<text x="1943.2" y="583.3" font-size="24.6" text-anchor="middle" fill="#050505" stroke="#050505" stroke-width="0.5">50</text>
<line x1="1994.8" y1="552.4" x2="1994.8" y2="559.2" stroke="#1a1a1a" stroke-width="2.1"/>
<text x="1994.8" y="583.3" font-size="24.6" text-anchor="middle" fill="#050505" stroke="#050505" stroke-width="0.5">100</text>
<line x1="2046.4" y1="552.4" x2="2046.4" y2="559.2" stroke="#1a1a1a" stroke-width="2.1"/>
<text x="2046.4" y="583.3" font-size="24.6" text-anchor="middle" fill="#050505" stroke="#050505" stroke-width="0.5">150</text>
<text x="1870.9" y="620.3" font-size="29.3" text-anchor="middle" fill="#050505" stroke="#050505" stroke-width="0.5">Time [hours]</text>
<text x="1560.2" y="323.5" font-size="30.3" text-anchor="middle" fill="#050505" stroke="#050505" stroke-width="0.5" transform="rotate(-90 1560.2 323.5)">Cancer cell count</text>
<text x="1683.3" y="116.3" font-size="20.8" text-anchor="start" fill="#cf5c72" stroke="#cf5c72" stroke-width="0.5">RASA2</text>
<text x="1683.3" y="137.6" font-size="20.8" text-anchor="start" fill="#050505" stroke="#050505" stroke-width="0.5">CTRL</text>
<path d="M1682.07,179.94 C1683.3,179.65 1686.74,178.27 1689.44,178.17 C1692.15,178.07 1693.87,178.57 1698.29,179.35 C1702.72,180.14 1708.12,181.66 1715.99,182.89 C1723.86,184.12 1735.66,185.89 1745.49,186.73 C1755.32,187.56 1757.29,187.56 1774.99,187.91 C1792.69,188.25 1838.9,188.64 1851.68,188.79" fill="none" stroke="#1a1a1a" stroke-width="3.1" stroke-linejoin="round" stroke-linecap="butt"/>
<path d="M1682.07,180.68 C1683.3,180.39 1686.74,179.01 1689.44,178.91 C1692.15,178.81 1693.87,179.3 1698.29,180.09 C1702.72,180.88 1708.12,182.4 1715.99,183.63 C1723.86,184.86 1735.66,186.63 1745.49,187.46 C1755.32,188.3 1757.29,188.3 1774.99,188.64 C1792.69,188.99 1838.9,189.38 1851.68,189.53" fill="none" stroke="#cf5c72" stroke-width="3.1" stroke-linejoin="round" stroke-linecap="butt"/>
<path d="M1891.51,176.99 C1893.23,176.85 1896.67,176.11 1901.83,176.11 C1907,176.11 1915.6,176.75 1922.48,176.99 C1929.37,177.24 1936.25,177.68 1943.13,177.58 C1950.01,177.48 1957.39,177.09 1963.78,176.4 C1970.17,175.71 1976.07,174.73 1981.48,173.45 C1986.89,172.17 1991.31,170.85 1996.23,168.73 C2001.15,166.62 2006.06,164.31 2010.98,160.77 C2015.89,157.23 2021.79,151.43 2025.73,147.49 C2029.66,143.56 2031.63,140.61 2034.58,137.17 C2037.53,133.73 2039.99,129.79 2043.43,126.84 C2046.87,123.89 2053.26,120.7 2055.23,119.47" fill="none" stroke="#1a1a1a" stroke-width="3.1" stroke-linejoin="round" stroke-linecap="butt"/>
<path d="M1891.51,177.88 C1894.21,178.07 1900.11,178.22 1907.73,179.06 C1915.35,179.89 1927.4,182.01 1937.23,182.89 C1947.06,183.78 1954.44,183.97 1966.73,184.37 C1979.02,184.76 1996.23,185.5 2010.98,185.25 C2025.73,185.01 2047.85,183.29 2055.23,182.89" fill="none" stroke="#cf5c72" stroke-width="3.1" stroke-linejoin="round" stroke-linecap="butt"/>
<path d="M1682.07,300.3 C1683.79,299.95 1686.74,297.94 1692.39,298.23 C1698.05,298.53 1707.14,300.69 1715.99,302.07 C1724.84,303.44 1735.66,305.41 1745.49,306.49 C1755.32,307.57 1757.29,308.07 1774.99,308.56 C1792.69,309.05 1838.9,309.29 1851.68,309.44" fill="none" stroke="#1a1a1a" stroke-width="3.1" stroke-linejoin="round" stroke-linecap="butt"/>
<path d="M1682.07,301.04 C1683.79,300.69 1686.74,298.68 1692.39,298.97 C1698.05,299.27 1707.14,301.43 1715.99,302.81 C1724.84,304.18 1735.66,306.15 1745.49,307.23 C1755.32,308.31 1757.29,308.8 1774.99,309.29 C1792.69,309.79 1838.9,310.03 1851.68,310.18" fill="none" stroke="#cf5c72" stroke-width="3.1" stroke-linejoin="round" stroke-linecap="butt"/>
<path d="M1891.51,297.94 C1892.25,297.59 1894.7,295.97 1895.93,295.87 C1897.16,295.77 1894.46,298.23 1898.88,297.35 C1903.31,296.46 1913.63,293.17 1922.48,290.56 C1931.33,287.96 1943.62,284.42 1951.98,281.71 C1960.34,279.01 1966.24,277.29 1972.63,274.34 C1979.02,271.39 1983.94,268.19 1990.33,264.01 C1996.72,259.84 2005.08,253.2 2010.98,249.26 C2016.88,245.33 2021.3,242.78 2025.73,240.42 C2030.15,238.06 2032.61,236.24 2037.53,235.11 C2042.44,233.97 2052.28,233.88 2055.23,233.63" fill="none" stroke="#1a1a1a" stroke-width="3.1" stroke-linejoin="round" stroke-linecap="butt"/>
<path d="M1891.51,297.94 C1896.67,297.59 1912.4,295.77 1922.48,295.87 C1932.56,295.97 1944.61,297.94 1951.98,298.53 C1959.36,299.12 1959.36,299.51 1966.73,299.41 C1974.11,299.31 1986.4,299.02 1996.23,297.94 C2006.06,296.86 2015.89,295.23 2025.73,292.92 C2035.56,290.61 2050.31,285.55 2055.23,284.07" fill="none" stroke="#cf5c72" stroke-width="3.1" stroke-linejoin="round" stroke-linecap="butt"/>
<path d="M1682.07,420.06 C1684.28,419.57 1691.65,417.41 1695.34,417.11 C1699.03,416.82 1698.29,417.31 1704.19,418.29 C1710.09,419.27 1721.4,421.73 1730.74,423.01 C1740.08,424.29 1750.41,425.12 1760.24,425.96 C1770.07,426.8 1774.5,427.53 1789.74,428.02 C1804.98,428.52 1841.36,428.76 1851.68,428.91" fill="none" stroke="#1a1a1a" stroke-width="3.1" stroke-linejoin="round" stroke-linecap="butt"/>
<path d="M1682.07,420.65 C1684.28,420.16 1691.65,418 1695.34,417.7 C1699.03,417.41 1698.29,417.9 1704.19,418.88 C1710.09,419.86 1721.4,422.32 1730.74,423.6 C1740.08,424.88 1750.41,425.71 1760.24,426.55 C1770.07,427.39 1774.5,428.12 1789.74,428.61 C1804.98,429.11 1841.36,429.35 1851.68,429.5" fill="none" stroke="#cf5c72" stroke-width="3.1" stroke-linejoin="round" stroke-linecap="butt"/>
<line x1="1940.18" y1="403.18" x2="1940.18" y2="404.95" stroke="#cf5c72" stroke-width="1.5"/>
<line x1="1944.08" y1="401.97" x2="1944.08" y2="404.02" stroke="#cf5c72" stroke-width="1.5"/>
<line x1="1947.97" y1="400.76" x2="1947.97" y2="403.09" stroke="#cf5c72" stroke-width="1.5"/>
<line x1="1951.86" y1="399.55" x2="1951.86" y2="402.16" stroke="#cf5c72" stroke-width="1.5"/>
<line x1="1955.76" y1="398.34" x2="1955.76" y2="401.23" stroke="#cf5c72" stroke-width="1.5"/>
<line x1="1959.65" y1="397.13" x2="1959.65" y2="400.3" stroke="#cf5c72" stroke-width="1.5"/>
<line x1="1963.54" y1="395.92" x2="1963.54" y2="399.37" stroke="#cf5c72" stroke-width="1.5"/>
<line x1="1967.44" y1="394.71" x2="1967.44" y2="398.44" stroke="#cf5c72" stroke-width="1.5"/>
<line x1="1971.33" y1="393.5" x2="1971.33" y2="397.51" stroke="#cf5c72" stroke-width="1.5"/>
<line x1="1975.23" y1="392.24" x2="1975.23" y2="396.54" stroke="#cf5c72" stroke-width="1.5"/>
<line x1="1979.12" y1="390.94" x2="1979.12" y2="395.52" stroke="#cf5c72" stroke-width="1.5"/>
<line x1="1983.01" y1="389.64" x2="1983.01" y2="394.5" stroke="#cf5c72" stroke-width="1.5"/>
<line x1="1986.91" y1="388.34" x2="1986.91" y2="393.48" stroke="#cf5c72" stroke-width="1.5"/>
<line x1="1990.8" y1="387.04" x2="1990.8" y2="392.46" stroke="#cf5c72" stroke-width="1.5"/>
<line x1="1994.7" y1="385.74" x2="1994.7" y2="391.44" stroke="#cf5c72" stroke-width="1.5"/>
<line x1="1998.59" y1="384.44" x2="1998.59" y2="390.42" stroke="#cf5c72" stroke-width="1.5"/>
<line x1="2002.48" y1="383.14" x2="2002.48" y2="389.4" stroke="#cf5c72" stroke-width="1.5"/>
<line x1="2006.38" y1="381.84" x2="2006.38" y2="388.38" stroke="#cf5c72" stroke-width="1.5"/>
<line x1="2010.27" y1="380.54" x2="2010.27" y2="387.36" stroke="#cf5c72" stroke-width="1.5"/>
<line x1="2014.16" y1="379.25" x2="2014.16" y2="386.33" stroke="#cf5c72" stroke-width="1.5"/>
<line x1="2018.06" y1="377.92" x2="2018.06" y2="385" stroke="#cf5c72" stroke-width="1.5"/>
<line x1="2021.95" y1="376.56" x2="2021.95" y2="383.64" stroke="#cf5c72" stroke-width="1.5"/>
<line x1="2025.85" y1="375.19" x2="2025.85" y2="382.27" stroke="#cf5c72" stroke-width="1.5"/>
<line x1="2029.74" y1="373.83" x2="2029.74" y2="380.91" stroke="#cf5c72" stroke-width="1.5"/>
<line x1="2033.63" y1="372.46" x2="2033.63" y2="379.54" stroke="#cf5c72" stroke-width="1.5"/>
<line x1="2037.53" y1="371.1" x2="2037.53" y2="378.18" stroke="#cf5c72" stroke-width="1.5"/>
<line x1="2041.42" y1="369.73" x2="2041.42" y2="376.81" stroke="#cf5c72" stroke-width="1.5"/>
<line x1="2045.32" y1="368.37" x2="2045.32" y2="375.45" stroke="#cf5c72" stroke-width="1.5"/>
<line x1="2049.21" y1="367.01" x2="2049.21" y2="374.09" stroke="#cf5c72" stroke-width="1.5"/>
<line x1="2053.1" y1="365.64" x2="2053.1" y2="372.72" stroke="#cf5c72" stroke-width="1.5"/>
<path d="M1891.73,418.12 C1894.17,417.32 1902.17,415.06 1906.35,413.32 C1910.52,411.58 1913.66,409.49 1916.79,407.68 C1919.92,405.87 1922.35,404.55 1925.14,402.46 C1927.92,400.38 1930.71,397.84 1933.49,395.16 C1936.27,392.48 1938.71,389.69 1941.84,386.39 C1944.97,383.08 1948.8,378.84 1952.28,375.32 C1955.76,371.81 1959.24,368.33 1962.72,365.3 C1966.2,362.28 1969.68,359.56 1973.16,357.16 C1976.63,354.76 1980.64,352.46 1983.59,350.9 C1986.55,349.33 1988.29,348.6 1990.9,347.77 C1993.51,346.93 1995.25,346.34 1999.25,345.89 C2003.25,345.44 2008.82,345.47 2014.91,345.05 C2021,344.63 2029.18,343.8 2035.79,343.38 C2042.4,342.96 2051.44,342.69 2054.58,342.55" fill="none" stroke="#1a1a1a" stroke-width="3.1" stroke-linejoin="round" stroke-linecap="butt"/>
<path d="M1891.51,418.29 C1898.15,416.32 1917.71,410.37 1931.33,406.49 C1944.95,402.61 1959.31,398.97 1973.22,394.99 C1987.13,391 2001.15,387.02 2014.81,382.6 C2028.48,378.17 2048.49,370.8 2055.23,368.44" fill="none" stroke="#cf5c72" stroke-width="3.1" stroke-linejoin="round" stroke-linecap="butt"/>
<path d="M1682.07,543.37 C1682.8,542.73 1682.8,541.01 1686.49,539.53 C1690.18,538.06 1698.78,535.6 1704.19,534.52 C1709.6,533.43 1713.53,532.55 1718.94,533.04 C1724.35,533.53 1729.76,535.99 1736.64,537.47 C1743.52,538.94 1751.39,540.76 1760.24,541.89 C1769.09,543.02 1774.5,543.61 1789.74,544.25 C1804.98,544.89 1841.36,545.48 1851.68,545.73" fill="none" stroke="#1a1a1a" stroke-width="3.1" stroke-linejoin="round" stroke-linecap="butt"/>
<path d="M1682.07,539.53 C1682.8,539.33 1682.8,539.19 1686.49,538.35 C1690.18,537.51 1698.78,535.3 1704.19,534.52 C1709.6,533.73 1713.53,533.29 1718.94,533.63 C1724.35,533.97 1729.76,535.3 1736.64,536.58 C1743.52,537.86 1751.39,540.07 1760.24,541.3 C1769.09,542.53 1774.5,543.22 1789.74,543.96 C1804.98,544.69 1841.36,545.43 1851.68,545.73" fill="none" stroke="#cf5c72" stroke-width="3.1" stroke-linejoin="round" stroke-linecap="butt"/>
<path d="M1891.73,539.21 C1893.13,538.76 1896.95,537.71 1900.09,536.49 C1903.22,535.28 1907.04,533.89 1910.52,531.9 C1914,529.92 1917.48,527.73 1920.96,524.59 C1924.44,521.46 1927.92,517.29 1931.4,513.11 C1934.88,508.94 1938.36,504.07 1941.84,499.54 C1945.32,495.02 1949.15,489.8 1952.28,485.97 C1955.41,482.14 1957.85,479.19 1960.63,476.58 C1963.41,473.97 1966.2,471.78 1968.98,470.31 C1971.76,468.85 1973.16,468.51 1977.33,467.81 C1981.51,467.11 1986.03,466.77 1994.03,466.14 C2002.04,465.51 2015.26,464.5 2025.35,464.05 C2035.44,463.6 2049.7,463.53 2054.58,463.43" fill="none" stroke="#1a1a1a" stroke-width="3.1" stroke-linejoin="round" stroke-linecap="butt"/>
<path d="M1891.73,539.21 C1893.82,538.86 1900.09,538.51 1904.26,537.12 C1908.44,535.73 1912.26,533.29 1916.79,530.86 C1921.31,528.42 1927.23,525.29 1931.4,522.51 C1935.58,519.72 1938.36,517.11 1941.84,514.16 C1945.32,511.2 1948.8,507.89 1952.28,504.76 C1955.76,501.63 1959.24,498.32 1962.72,495.37 C1966.2,492.41 1969.68,489.63 1973.16,487.02 C1976.63,484.41 1980.11,481.62 1983.59,479.71 C1987.07,477.8 1990.55,476.68 1994.03,475.53 C1997.51,474.39 2000.99,473.52 2004.47,472.82 C2007.95,472.12 2009.69,471.85 2014.91,471.36 C2020.13,470.87 2029.18,470.35 2035.79,469.9 C2042.4,469.44 2051.44,468.85 2054.58,468.64" fill="none" stroke="#cf5c72" stroke-width="3.1" stroke-linejoin="round" stroke-linecap="butt"/>
<rect x="1674.3" y="92.2" width="185.3" height="97.3" fill="none" stroke="#111111" stroke-width="2.2"/>
<rect x="1882.5" y="92.2" width="186.2" height="97.3" fill="none" stroke="#111111" stroke-width="2.2"/>
<rect x="1674.3" y="212.6" width="185.3" height="97.3" fill="none" stroke="#111111" stroke-width="2.2"/>
<rect x="1882.5" y="212.6" width="186.2" height="97.3" fill="none" stroke="#111111" stroke-width="2.2"/>
<rect x="1674.3" y="333.3" width="185.3" height="97.3" fill="none" stroke="#111111" stroke-width="2.2"/>
<rect x="1882.5" y="333.3" width="186.2" height="97.3" fill="none" stroke="#111111" stroke-width="2.2"/>
<rect x="1674.3" y="454.1" width="185.3" height="97.3" fill="none" stroke="#111111" stroke-width="2.2"/>
<rect x="1882.5" y="454.1" width="186.2" height="97.3" fill="none" stroke="#111111" stroke-width="2.2"/>
<!-- panel e -->
<text x="0.6" y="680.4" font-size="33" text-anchor="start" fill="#050505" stroke="#050505" stroke-width="0.5">e</text>
<text x="214.8" y="701.7" font-size="29.4" text-anchor="start" fill="#050505" stroke="#050505" stroke-width="0.5">CAR-T cells : Nalm6</text>
<text x="248.9" y="740.5" font-size="24.6" text-anchor="middle" fill="#050505" stroke="#050505" stroke-width="0.5">First Stim</text>
<text x="454" y="740.5" font-size="24.6" text-anchor="middle" fill="#050505" stroke="#050505" stroke-width="0.5">Last Stim</text>
<line x1="146.2" y1="777.3" x2="152.6" y2="777.3" stroke="#1a1a1a" stroke-width="2.1"/>
<text x="138.9" y="785.6" font-size="24.6" text-anchor="end" fill="#050505" stroke="#050505" stroke-width="0.5">2e+04</text>
<line x1="146.2" y1="821.1" x2="152.6" y2="821.1" stroke="#1a1a1a" stroke-width="2.1"/>
<text x="138.9" y="829.4" font-size="24.6" text-anchor="end" fill="#050505" stroke="#050505" stroke-width="0.5">1e+04</text>
<text x="560.2" y="800.35" font-size="23.8" text-anchor="middle" fill="#050505" stroke="#050505" stroke-width="0.5" transform="rotate(90 560.2 800.35)">1:4</text>
<line x1="146.2" y1="899.3" x2="152.6" y2="899.3" stroke="#1a1a1a" stroke-width="2.1"/>
<text x="138.9" y="907.6" font-size="24.6" text-anchor="end" fill="#050505" stroke="#050505" stroke-width="0.5">2e+04</text>
<line x1="146.2" y1="943" x2="152.6" y2="943" stroke="#1a1a1a" stroke-width="2.1"/>
<text x="138.9" y="951.3" font-size="24.6" text-anchor="end" fill="#050505" stroke="#050505" stroke-width="0.5">1e+04</text>
<text x="560.2" y="920.75" font-size="23.8" text-anchor="middle" fill="#050505" stroke="#050505" stroke-width="0.5" transform="rotate(90 560.2 920.75)">1:8</text>
<line x1="146.2" y1="1017.4" x2="152.6" y2="1017.4" stroke="#1a1a1a" stroke-width="2.1"/>
<text x="138.9" y="1025.7" font-size="24.6" text-anchor="end" fill="#050505" stroke="#050505" stroke-width="0.5">2e+04</text>
<line x1="146.2" y1="1061.1" x2="152.6" y2="1061.1" stroke="#1a1a1a" stroke-width="2.1"/>
<text x="138.9" y="1069.4" font-size="24.6" text-anchor="end" fill="#050505" stroke="#050505" stroke-width="0.5">1e+04</text>
<text x="560.2" y="1041.5" font-size="23.8" text-anchor="middle" fill="#050505" stroke="#050505" stroke-width="0.5" transform="rotate(90 560.2 1041.5)">1:16</text>
<line x1="146.2" y1="1142" x2="152.6" y2="1142" stroke="#1a1a1a" stroke-width="2.1"/>
<text x="138.9" y="1150.3" font-size="24.6" text-anchor="end" fill="#050505" stroke="#050505" stroke-width="0.5">2e+04</text>
<line x1="146.2" y1="1185.8" x2="152.6" y2="1185.8" stroke="#1a1a1a" stroke-width="2.1"/>
<text x="138.9" y="1194.1" font-size="24.6" text-anchor="end" fill="#050505" stroke="#050505" stroke-width="0.5">1e+04</text>
<text x="560.2" y="1162.15" font-size="23.8" text-anchor="middle" fill="#050505" stroke="#050505" stroke-width="0.5" transform="rotate(90 560.2 1162.15)">1:32</text>
<line x1="153.7" y1="1212.9" x2="153.7" y2="1219.7" stroke="#1a1a1a" stroke-width="2.1"/>
<text x="153.7" y="1243.6" font-size="24.6" text-anchor="middle" fill="#050505" stroke="#050505" stroke-width="0.5">0</text>
<line x1="190.7" y1="1212.9" x2="190.7" y2="1219.7" stroke="#1a1a1a" stroke-width="2.1"/>
<text x="190.7" y="1243.6" font-size="24.6" text-anchor="middle" fill="#050505" stroke="#050505" stroke-width="0.5">24</text>
<line x1="227.7" y1="1212.9" x2="227.7" y2="1219.7" stroke="#1a1a1a" stroke-width="2.1"/>
<text x="227.7" y="1243.6" font-size="24.6" text-anchor="middle" fill="#050505" stroke="#050505" stroke-width="0.5">48</text>
<line x1="264.9" y1="1212.9" x2="264.9" y2="1219.7" stroke="#1a1a1a" stroke-width="2.1"/>
<text x="264.9" y="1243.6" font-size="24.6" text-anchor="middle" fill="#050505" stroke="#050505" stroke-width="0.5">72</text>
<line x1="302" y1="1212.9" x2="302" y2="1219.7" stroke="#1a1a1a" stroke-width="2.1"/>
<text x="302" y="1243.6" font-size="24.6" text-anchor="middle" fill="#050505" stroke="#050505" stroke-width="0.5">96</text>
<line x1="362.3" y1="1212.9" x2="362.3" y2="1219.7" stroke="#1a1a1a" stroke-width="2.1"/>
<text x="362.3" y="1243.6" font-size="24.6" text-anchor="middle" fill="#050505" stroke="#050505" stroke-width="0.5">0</text>
<line x1="399.3" y1="1212.9" x2="399.3" y2="1219.7" stroke="#1a1a1a" stroke-width="2.1"/>
<text x="399.3" y="1243.6" font-size="24.6" text-anchor="middle" fill="#050505" stroke="#050505" stroke-width="0.5">24</text>
<line x1="436.3" y1="1212.9" x2="436.3" y2="1219.7" stroke="#1a1a1a" stroke-width="2.1"/>
<text x="436.3" y="1243.6" font-size="24.6" text-anchor="middle" fill="#050505" stroke="#050505" stroke-width="0.5">48</text>
<line x1="473.5" y1="1212.9" x2="473.5" y2="1219.7" stroke="#1a1a1a" stroke-width="2.1"/>
<text x="473.5" y="1243.6" font-size="24.6" text-anchor="middle" fill="#050505" stroke="#050505" stroke-width="0.5">72</text>
<line x1="510.6" y1="1212.9" x2="510.6" y2="1219.7" stroke="#1a1a1a" stroke-width="2.1"/>
<text x="510.6" y="1243.6" font-size="24.6" text-anchor="middle" fill="#050505" stroke="#050505" stroke-width="0.5">96</text>
<text x="350.2" y="1279.2" font-size="29.3" text-anchor="middle" fill="#050505" stroke="#050505" stroke-width="0.5">Time [hours]</text>
<text x="56.8" y="982.2" font-size="29.1" text-anchor="middle" fill="#050505" stroke="#050505" stroke-width="0.5" transform="rotate(-90 56.8 982.2)">Cancer cell count</text>
<text x="325.2" y="780.6" font-size="20.8" text-anchor="end" fill="#cf5c72" stroke="#cf5c72" stroke-width="0.5">RASA2</text>
<text x="325.2" y="802.2" font-size="20.8" text-anchor="end" fill="#050505" stroke="#050505" stroke-width="0.5">CTRL</text>
<line x1="158.15" y1="782.79" x2="158.15" y2="789.6" stroke="#1a1a1a" stroke-width="1.7"/>
<line x1="162.15" y1="782.13" x2="162.15" y2="788.93" stroke="#1a1a1a" stroke-width="1.7"/>
<line x1="166.16" y1="781.73" x2="166.16" y2="788.53" stroke="#1a1a1a" stroke-width="1.7"/>
<line x1="170.16" y1="783.06" x2="170.16" y2="789.87" stroke="#1a1a1a" stroke-width="1.7"/>
<line x1="174.17" y1="785.4" x2="174.17" y2="792.2" stroke="#1a1a1a" stroke-width="1.7"/>
<line x1="178.17" y1="788.73" x2="178.17" y2="795.54" stroke="#1a1a1a" stroke-width="1.7"/>
<line x1="182.17" y1="793.4" x2="182.17" y2="800.21" stroke="#1a1a1a" stroke-width="1.7"/>
<line x1="156.15" y1="789.33" x2="156.15" y2="796.14" stroke="#cf5c72" stroke-width="1.7"/>
<line x1="160.15" y1="789.73" x2="160.15" y2="796.54" stroke="#cf5c72" stroke-width="1.7"/>
<line x1="164.16" y1="790.4" x2="164.16" y2="797.21" stroke="#cf5c72" stroke-width="1.7"/>
<line x1="168.16" y1="792.07" x2="168.16" y2="798.88" stroke="#cf5c72" stroke-width="1.7"/>
<line x1="172.16" y1="794.74" x2="172.16" y2="801.54" stroke="#cf5c72" stroke-width="1.7"/>
<line x1="176.17" y1="798.74" x2="176.17" y2="805.55" stroke="#cf5c72" stroke-width="1.7"/>
<line x1="180.17" y1="802.75" x2="180.17" y2="809.55" stroke="#cf5c72" stroke-width="1.7"/>
<line x1="184.18" y1="806.75" x2="184.18" y2="813.56" stroke="#cf5c72" stroke-width="1.7"/>
<path d="M154.15,788.13 C155.15,787.9 158.15,787.06 160.15,786.73 C162.15,786.4 164.16,785.9 166.16,786.13 C168.16,786.36 170.16,786.96 172.16,788.13 C174.17,789.3 176.17,791.13 178.17,793.14 C180.17,795.14 181.84,796.97 184.18,800.14 C186.51,803.31 189.51,808.48 192.18,812.15 C194.85,815.82 197.19,818.99 200.19,822.16 C203.19,825.33 206.86,828.67 210.2,831.17 C213.54,833.67 216.87,835.61 220.21,837.18 C223.55,838.75 226.88,839.68 230.22,840.58 C233.56,841.48 235.22,841.98 240.23,842.58 C245.23,843.18 251.91,843.82 260.25,844.18 C268.59,844.55 277.6,844.65 290.28,844.79 C302.96,844.92 328.65,844.95 336.32,844.99" fill="none" stroke="#1a1a1a" stroke-width="3" stroke-linejoin="round" stroke-linecap="butt"/>
<path d="M154.15,791.53 C155.15,791.63 158.15,791.87 160.15,792.14 C162.15,792.4 164.16,792.3 166.16,793.14 C168.16,793.97 170.16,795.47 172.16,797.14 C174.17,798.81 176.17,801.14 178.17,803.15 C180.17,805.15 181.84,806.48 184.18,809.15 C186.51,811.82 189.51,816.16 192.18,819.16 C194.85,822.16 197.19,824.67 200.19,827.17 C203.19,829.67 206.86,832.24 210.2,834.18 C213.54,836.11 216.87,837.55 220.21,838.78 C223.55,840.01 226.88,840.85 230.22,841.58 C233.56,842.32 235.22,842.72 240.23,843.18 C245.23,843.65 251.91,844.08 260.25,844.39 C268.59,844.69 277.6,844.85 290.28,844.99 C302.96,845.12 328.65,845.15 336.32,845.19" fill="none" stroke="#cf5c72" stroke-width="3" stroke-linejoin="round" stroke-linecap="butt"/>
<path d="M362.31,804.01 C363,805.24 364.28,809.92 366.44,811.4 C368.61,812.88 369.89,811.4 375.31,812.88 C380.73,814.36 390.09,817.56 398.95,820.27 C407.82,822.98 418.65,826.42 428.5,829.13 C438.35,831.84 448.2,834.45 458.06,836.52 C467.91,838.59 477.76,840.31 487.61,841.54 C497.46,842.78 507.9,843.42 517.16,843.91 C526.42,844.4 538.83,844.4 543.16,844.5" fill="none" stroke="#1a1a1a" stroke-width="3" stroke-linejoin="round" stroke-linecap="butt"/>
<path d="M362.31,804.01 C363,805.39 364.28,810.66 366.44,812.29 C368.61,813.91 369.89,812.09 375.31,813.77 C380.73,815.44 390.09,819.28 398.95,822.34 C407.82,825.39 418.65,829.23 428.5,832.09 C438.35,834.94 448.2,837.6 458.06,839.48 C467.91,841.35 477.76,842.48 487.61,843.32 C497.46,844.15 507.9,844.25 517.16,844.5 C526.42,844.75 538.83,844.75 543.16,844.8" fill="none" stroke="#cf5c72" stroke-width="3" stroke-linejoin="round" stroke-linecap="butt"/>
<line x1="161.06" y1="908.52" x2="161.06" y2="914.43" stroke="#1a1a1a" stroke-width="1.7"/>
<line x1="164.9" y1="907.84" x2="164.9" y2="913.75" stroke="#1a1a1a" stroke-width="1.7"/>
<line x1="168.74" y1="907.55" x2="168.74" y2="913.46" stroke="#1a1a1a" stroke-width="1.7"/>
<line x1="172.58" y1="907.32" x2="172.58" y2="913.23" stroke="#1a1a1a" stroke-width="1.7"/>
<line x1="176.43" y1="907.08" x2="176.43" y2="913" stroke="#1a1a1a" stroke-width="1.7"/>
<line x1="180.27" y1="906.85" x2="180.27" y2="912.76" stroke="#1a1a1a" stroke-width="1.7"/>
<line x1="184.11" y1="907.81" x2="184.11" y2="913.72" stroke="#1a1a1a" stroke-width="1.7"/>
<line x1="187.95" y1="909.57" x2="187.95" y2="915.48" stroke="#1a1a1a" stroke-width="1.7"/>
<line x1="161.06" y1="912.69" x2="161.06" y2="918.01" stroke="#cf5c72" stroke-width="1.7"/>
<line x1="164.9" y1="912.5" x2="164.9" y2="917.82" stroke="#cf5c72" stroke-width="1.7"/>
<line x1="168.74" y1="912.47" x2="168.74" y2="917.79" stroke="#cf5c72" stroke-width="1.7"/>
<line x1="172.58" y1="912.47" x2="172.58" y2="917.79" stroke="#cf5c72" stroke-width="1.7"/>
<line x1="176.43" y1="912.47" x2="176.43" y2="917.79" stroke="#cf5c72" stroke-width="1.7"/>
<line x1="180.27" y1="912.47" x2="180.27" y2="917.79" stroke="#cf5c72" stroke-width="1.7"/>
<line x1="184.11" y1="913.81" x2="184.11" y2="919.13" stroke="#cf5c72" stroke-width="1.7"/>
<line x1="187.95" y1="915.6" x2="187.95" y2="920.92" stroke="#cf5c72" stroke-width="1.7"/>
<line x1="191.79" y1="917.91" x2="191.79" y2="923.23" stroke="#cf5c72" stroke-width="1.7"/>
<line x1="195.63" y1="920.21" x2="195.63" y2="925.53" stroke="#cf5c72" stroke-width="1.7"/>
<line x1="199.48" y1="922.52" x2="199.48" y2="927.84" stroke="#cf5c72" stroke-width="1.7"/>
<line x1="203.32" y1="924.99" x2="203.32" y2="930.31" stroke="#cf5c72" stroke-width="1.7"/>
<line x1="207.16" y1="927.57" x2="207.16" y2="932.89" stroke="#cf5c72" stroke-width="1.7"/>
<line x1="211" y1="930.15" x2="211" y2="935.47" stroke="#cf5c72" stroke-width="1.7"/>
<line x1="214.84" y1="932.73" x2="214.84" y2="938.05" stroke="#cf5c72" stroke-width="1.7"/>
<line x1="218.68" y1="935.31" x2="218.68" y2="940.63" stroke="#cf5c72" stroke-width="1.7"/>
<line x1="222.53" y1="937.81" x2="222.53" y2="943.13" stroke="#cf5c72" stroke-width="1.7"/>
<line x1="226.37" y1="940.06" x2="226.37" y2="945.38" stroke="#cf5c72" stroke-width="1.7"/>
<line x1="230.21" y1="942.31" x2="230.21" y2="947.63" stroke="#cf5c72" stroke-width="1.7"/>
<line x1="234.05" y1="944.56" x2="234.05" y2="949.88" stroke="#cf5c72" stroke-width="1.7"/>
<line x1="237.89" y1="946.81" x2="237.89" y2="952.13" stroke="#cf5c72" stroke-width="1.7"/>
<line x1="241.73" y1="949.06" x2="241.73" y2="954.38" stroke="#cf5c72" stroke-width="1.7"/>
<line x1="245.58" y1="950.87" x2="245.58" y2="956.19" stroke="#cf5c72" stroke-width="1.7"/>
<line x1="249.42" y1="952.6" x2="249.42" y2="957.92" stroke="#cf5c72" stroke-width="1.7"/>
<line x1="253.26" y1="954.33" x2="253.26" y2="959.65" stroke="#cf5c72" stroke-width="1.7"/>
<path d="M153.67,913.36 C155.64,913.01 161.06,911.78 165.49,911.29 C169.92,910.79 176.82,910.3 180.27,910.4 C183.71,910.5 182.73,909.91 186.18,911.88 C189.63,913.85 195.04,918.03 200.95,922.22 C206.86,926.41 214.74,932.32 221.64,937 C228.54,941.68 235.92,946.7 242.33,950.3 C248.73,953.89 253.65,956.45 260.06,958.57 C266.46,960.69 272.37,961.92 280.74,963 C289.12,964.09 301.04,964.63 310.3,965.07 C319.56,965.51 331.97,965.56 336.3,965.66" fill="none" stroke="#1a1a1a" stroke-width="3" stroke-linejoin="round" stroke-linecap="butt"/>
<path d="M153.67,914.83 C155.64,914.73 161.06,914.34 165.49,914.24 C169.92,914.14 176.82,913.9 180.27,914.24 C183.71,914.59 182.73,914.49 186.18,916.31 C189.63,918.13 195.04,921.38 200.95,925.18 C206.86,928.97 214.74,934.73 221.64,939.07 C228.54,943.4 235.92,947.83 242.33,951.18 C248.73,954.53 253.65,957.14 260.06,959.16 C266.46,961.18 272.37,962.26 280.74,963.3 C289.12,964.33 301.04,964.92 310.3,965.37 C319.56,965.81 331.97,965.86 336.3,965.96" fill="none" stroke="#cf5c72" stroke-width="3" stroke-linejoin="round" stroke-linecap="butt"/>
<path d="M362.31,925.18 C363,926.41 363.78,931.48 366.44,932.56 C369.1,933.65 373.83,931.53 378.27,931.68 C382.7,931.83 389.1,932.81 393.04,933.45 C396.98,934.09 397.47,935.27 401.91,935.52 C406.34,935.77 412.74,934.78 419.64,934.93 C426.53,935.08 436.38,935.42 443.28,936.41 C450.17,937.39 453.62,938.52 461.01,940.84 C468.4,943.15 478.25,947.34 487.61,950.3 C496.97,953.25 507.9,956.6 517.16,958.57 C526.42,960.54 538.83,961.53 543.16,962.12" fill="none" stroke="#1a1a1a" stroke-width="3" stroke-linejoin="round" stroke-linecap="butt"/>
<path d="M362.31,925.18 C363,926.56 363.78,932.12 366.44,933.45 C369.1,934.78 373.83,932.71 378.27,933.16 C382.7,933.6 389.1,935.08 393.04,936.11 C396.98,937.14 397.47,938.57 401.91,939.36 C406.34,940.15 412.74,939.26 419.64,940.84 C426.53,942.41 436.38,946.65 443.28,948.82 C450.17,950.99 453.62,951.87 461.01,953.84 C468.4,955.81 478.25,959.01 487.61,960.64 C496.97,962.26 507.9,962.95 517.16,963.59 C526.42,964.23 538.83,964.33 543.16,964.48" fill="none" stroke="#cf5c72" stroke-width="3" stroke-linejoin="round" stroke-linecap="butt"/>
<line x1="160.02" y1="1026.02" x2="160.02" y2="1032.42" stroke="#1a1a1a" stroke-width="1.7"/>
<line x1="166.22" y1="1023.92" x2="166.22" y2="1030.33" stroke="#1a1a1a" stroke-width="1.7"/>
<line x1="172.43" y1="1021.53" x2="172.43" y2="1027.94" stroke="#1a1a1a" stroke-width="1.7"/>
<line x1="178.64" y1="1018.67" x2="178.64" y2="1025.07" stroke="#1a1a1a" stroke-width="1.7"/>
<line x1="184.84" y1="1016.91" x2="184.84" y2="1023.32" stroke="#1a1a1a" stroke-width="1.7"/>
<line x1="191.05" y1="1017.87" x2="191.05" y2="1024.27" stroke="#1a1a1a" stroke-width="1.7"/>
<line x1="197.25" y1="1018.99" x2="197.25" y2="1025.39" stroke="#1a1a1a" stroke-width="1.7"/>
<line x1="203.46" y1="1020.8" x2="203.46" y2="1027.2" stroke="#1a1a1a" stroke-width="1.7"/>
<line x1="209.67" y1="1022.61" x2="209.67" y2="1029.01" stroke="#1a1a1a" stroke-width="1.7"/>
<line x1="215.87" y1="1024.42" x2="215.87" y2="1030.82" stroke="#1a1a1a" stroke-width="1.7"/>
<line x1="222.08" y1="1026.64" x2="222.08" y2="1033.05" stroke="#1a1a1a" stroke-width="1.7"/>
<line x1="228.28" y1="1029.75" x2="228.28" y2="1036.15" stroke="#1a1a1a" stroke-width="1.7"/>
<line x1="234.49" y1="1033.73" x2="234.49" y2="1040.14" stroke="#1a1a1a" stroke-width="1.7"/>
<line x1="240.7" y1="1038.08" x2="240.7" y2="1044.48" stroke="#1a1a1a" stroke-width="1.7"/>
<line x1="246.9" y1="1042.42" x2="246.9" y2="1048.83" stroke="#1a1a1a" stroke-width="1.7"/>
<line x1="253.11" y1="1046.61" x2="253.11" y2="1053.02" stroke="#1a1a1a" stroke-width="1.7"/>
<line x1="259.31" y1="1050.65" x2="259.31" y2="1057.05" stroke="#1a1a1a" stroke-width="1.7"/>
<line x1="265.52" y1="1054.68" x2="265.52" y2="1061.09" stroke="#1a1a1a" stroke-width="1.7"/>
<line x1="271.73" y1="1058.6" x2="271.73" y2="1065.01" stroke="#1a1a1a" stroke-width="1.7"/>
<line x1="277.93" y1="1062.2" x2="277.93" y2="1068.61" stroke="#1a1a1a" stroke-width="1.7"/>
<line x1="284.14" y1="1065.8" x2="284.14" y2="1072.21" stroke="#1a1a1a" stroke-width="1.7"/>
<line x1="290.34" y1="1069.36" x2="290.34" y2="1075.76" stroke="#1a1a1a" stroke-width="1.7"/>
<line x1="296.55" y1="1071.53" x2="296.55" y2="1077.93" stroke="#1a1a1a" stroke-width="1.7"/>
<line x1="156.02" y1="1030.67" x2="156.02" y2="1035.08" stroke="#cf5c72" stroke-width="1.7"/>
<line x1="162.22" y1="1030.13" x2="162.22" y2="1034.53" stroke="#cf5c72" stroke-width="1.7"/>
<line x1="168.43" y1="1029.59" x2="168.43" y2="1033.99" stroke="#cf5c72" stroke-width="1.7"/>
<line x1="174.63" y1="1028.38" x2="174.63" y2="1032.79" stroke="#cf5c72" stroke-width="1.7"/>
<line x1="180.84" y1="1026.95" x2="180.84" y2="1031.36" stroke="#cf5c72" stroke-width="1.7"/>
<line x1="187.04" y1="1027.06" x2="187.04" y2="1031.46" stroke="#cf5c72" stroke-width="1.7"/>
<line x1="193.25" y1="1028.01" x2="193.25" y2="1032.42" stroke="#cf5c72" stroke-width="1.7"/>
<line x1="199.46" y1="1029.3" x2="199.46" y2="1033.7" stroke="#cf5c72" stroke-width="1.7"/>
<line x1="205.66" y1="1030.85" x2="205.66" y2="1035.25" stroke="#cf5c72" stroke-width="1.7"/>
<line x1="211.87" y1="1032.4" x2="211.87" y2="1036.8" stroke="#cf5c72" stroke-width="1.7"/>
<line x1="218.07" y1="1033.95" x2="218.07" y2="1038.36" stroke="#cf5c72" stroke-width="1.7"/>
<line x1="228.08" y1="1036.85" x2="228.08" y2="1045.26" stroke="#cf5c72" stroke-width="1.7"/>
<line x1="237.49" y1="1042.1" x2="237.49" y2="1050.51" stroke="#cf5c72" stroke-width="1.7"/>
<line x1="246.9" y1="1047.74" x2="246.9" y2="1056.15" stroke="#cf5c72" stroke-width="1.7"/>
<line x1="256.31" y1="1053.39" x2="256.31" y2="1061.8" stroke="#cf5c72" stroke-width="1.7"/>
<line x1="265.72" y1="1059.04" x2="265.72" y2="1067.44" stroke="#cf5c72" stroke-width="1.7"/>
<line x1="275.13" y1="1064.18" x2="275.13" y2="1072.59" stroke="#cf5c72" stroke-width="1.7"/>
<line x1="284.54" y1="1068.88" x2="284.54" y2="1077.29" stroke="#cf5c72" stroke-width="1.7"/>
<line x1="293.95" y1="1073.02" x2="293.95" y2="1081.43" stroke="#cf5c72" stroke-width="1.7"/>
<line x1="303.36" y1="1076.31" x2="303.36" y2="1084.72" stroke="#cf5c72" stroke-width="1.7"/>
<path d="M154.01,1032.45 C156.68,1031.55 165.19,1028.95 170.03,1027.04 C174.87,1025.14 178.7,1021.71 183.04,1021.04 C187.38,1020.37 189.88,1021.54 196.05,1023.04 C202.23,1024.54 214.4,1028.05 220.08,1030.05 C225.75,1032.05 225.08,1031.88 230.09,1035.05 C235.09,1038.22 243.43,1044.56 250.1,1049.07 C256.78,1053.57 263.45,1057.97 270.12,1062.08 C276.8,1066.18 283.47,1070.59 290.14,1073.69 C296.82,1076.79 302.49,1078.96 310.16,1080.7 C317.84,1082.43 331.85,1083.53 336.19,1084.1" fill="none" stroke="#1a1a1a" stroke-width="3" stroke-linejoin="round" stroke-linecap="butt"/>
<path d="M154.01,1032.45 C156.68,1032.22 165.19,1031.78 170.03,1031.05 C174.87,1030.31 178.7,1028.21 183.04,1028.05 C187.38,1027.88 189.88,1028.71 196.05,1030.05 C202.23,1031.38 214.4,1034.39 220.08,1036.05 C225.75,1037.72 225.08,1037.39 230.09,1040.06 C235.09,1042.73 243.43,1048.06 250.1,1052.07 C256.78,1056.07 263.45,1060.41 270.12,1064.08 C276.8,1067.75 283.47,1071.25 290.14,1074.09 C296.82,1076.93 302.49,1079.36 310.16,1081.1 C317.84,1082.83 331.85,1083.93 336.19,1084.5" fill="none" stroke="#cf5c72" stroke-width="3" stroke-linejoin="round" stroke-linecap="butt"/>
<line x1="437.37" y1="1039.8" x2="437.37" y2="1045.12" stroke="#1a1a1a" stroke-width="1.7"/>
<line x1="443.37" y1="1037.66" x2="443.37" y2="1042.98" stroke="#1a1a1a" stroke-width="1.7"/>
<line x1="449.37" y1="1035.52" x2="449.37" y2="1040.84" stroke="#1a1a1a" stroke-width="1.7"/>
<line x1="455.37" y1="1033.37" x2="455.37" y2="1038.69" stroke="#1a1a1a" stroke-width="1.7"/>
<line x1="461.37" y1="1031.75" x2="461.37" y2="1037.07" stroke="#1a1a1a" stroke-width="1.7"/>
<line x1="467.36" y1="1030.55" x2="467.36" y2="1035.87" stroke="#1a1a1a" stroke-width="1.7"/>
<line x1="473.36" y1="1029.51" x2="473.36" y2="1034.83" stroke="#1a1a1a" stroke-width="1.7"/>
<line x1="479.36" y1="1030.11" x2="479.36" y2="1035.43" stroke="#1a1a1a" stroke-width="1.7"/>
<line x1="485.36" y1="1030.71" x2="485.36" y2="1036.03" stroke="#1a1a1a" stroke-width="1.7"/>
<line x1="491.36" y1="1032.06" x2="491.36" y2="1037.38" stroke="#1a1a1a" stroke-width="1.7"/>
<line x1="497.36" y1="1033.86" x2="497.36" y2="1039.18" stroke="#1a1a1a" stroke-width="1.7"/>
<line x1="503.36" y1="1035.86" x2="503.36" y2="1041.18" stroke="#1a1a1a" stroke-width="1.7"/>
<line x1="509.36" y1="1038.86" x2="509.36" y2="1044.18" stroke="#1a1a1a" stroke-width="1.7"/>
<line x1="515.36" y1="1041.86" x2="515.36" y2="1047.17" stroke="#1a1a1a" stroke-width="1.7"/>
<line x1="521.36" y1="1044.44" x2="521.36" y2="1049.75" stroke="#1a1a1a" stroke-width="1.7"/>
<line x1="527.35" y1="1046.84" x2="527.35" y2="1052.15" stroke="#1a1a1a" stroke-width="1.7"/>
<line x1="533.35" y1="1049.12" x2="533.35" y2="1054.43" stroke="#1a1a1a" stroke-width="1.7"/>
<line x1="539.35" y1="1051.01" x2="539.35" y2="1056.33" stroke="#1a1a1a" stroke-width="1.7"/>
<line x1="425.55" y1="1049.18" x2="425.55" y2="1054.5" stroke="#cf5c72" stroke-width="1.7"/>
<line x1="428.21" y1="1049.02" x2="428.21" y2="1054.34" stroke="#cf5c72" stroke-width="1.7"/>
<line x1="430.87" y1="1048.85" x2="430.87" y2="1054.17" stroke="#cf5c72" stroke-width="1.7"/>
<line x1="433.53" y1="1048.69" x2="433.53" y2="1054.01" stroke="#cf5c72" stroke-width="1.7"/>
<line x1="436.19" y1="1048.52" x2="436.19" y2="1053.84" stroke="#cf5c72" stroke-width="1.7"/>
<line x1="438.85" y1="1048.35" x2="438.85" y2="1053.67" stroke="#cf5c72" stroke-width="1.7"/>
<line x1="441.51" y1="1048.19" x2="441.51" y2="1053.51" stroke="#cf5c72" stroke-width="1.7"/>
<line x1="444.17" y1="1048.2" x2="444.17" y2="1053.52" stroke="#cf5c72" stroke-width="1.7"/>
<line x1="446.83" y1="1048.57" x2="446.83" y2="1053.89" stroke="#cf5c72" stroke-width="1.7"/>
<line x1="449.49" y1="1048.95" x2="449.49" y2="1054.26" stroke="#cf5c72" stroke-width="1.7"/>
<line x1="452.14" y1="1049.32" x2="452.14" y2="1054.64" stroke="#cf5c72" stroke-width="1.7"/>
<line x1="454.8" y1="1049.69" x2="454.8" y2="1055.01" stroke="#cf5c72" stroke-width="1.7"/>
<line x1="457.46" y1="1050.06" x2="457.46" y2="1055.38" stroke="#cf5c72" stroke-width="1.7"/>
<line x1="460.12" y1="1051.06" x2="460.12" y2="1056.37" stroke="#cf5c72" stroke-width="1.7"/>
<line x1="462.78" y1="1052.23" x2="462.78" y2="1057.54" stroke="#cf5c72" stroke-width="1.7"/>
<line x1="465.44" y1="1053.4" x2="465.44" y2="1058.71" stroke="#cf5c72" stroke-width="1.7"/>
<line x1="468.1" y1="1054.57" x2="468.1" y2="1059.89" stroke="#cf5c72" stroke-width="1.7"/>
<line x1="470.76" y1="1055.74" x2="470.76" y2="1061.06" stroke="#cf5c72" stroke-width="1.7"/>
<line x1="473.42" y1="1056.98" x2="473.42" y2="1062.3" stroke="#cf5c72" stroke-width="1.7"/>
<line x1="476.08" y1="1058.47" x2="476.08" y2="1063.79" stroke="#cf5c72" stroke-width="1.7"/>
<line x1="478.74" y1="1059.96" x2="478.74" y2="1065.28" stroke="#cf5c72" stroke-width="1.7"/>
<line x1="481.4" y1="1061.45" x2="481.4" y2="1066.76" stroke="#cf5c72" stroke-width="1.7"/>
<line x1="484.06" y1="1062.93" x2="484.06" y2="1068.25" stroke="#cf5c72" stroke-width="1.7"/>
<line x1="486.72" y1="1064.42" x2="486.72" y2="1069.74" stroke="#cf5c72" stroke-width="1.7"/>
<line x1="489.38" y1="1065.63" x2="489.38" y2="1070.95" stroke="#cf5c72" stroke-width="1.7"/>
<line x1="492.04" y1="1066.69" x2="492.04" y2="1072.01" stroke="#cf5c72" stroke-width="1.7"/>
<line x1="494.7" y1="1067.76" x2="494.7" y2="1073.08" stroke="#cf5c72" stroke-width="1.7"/>
<line x1="497.36" y1="1068.82" x2="497.36" y2="1074.14" stroke="#cf5c72" stroke-width="1.7"/>
<line x1="500.02" y1="1069.89" x2="500.02" y2="1075.2" stroke="#cf5c72" stroke-width="1.7"/>
<line x1="502.68" y1="1070.92" x2="502.68" y2="1076.24" stroke="#cf5c72" stroke-width="1.7"/>
<line x1="505.34" y1="1071.72" x2="505.34" y2="1077.04" stroke="#cf5c72" stroke-width="1.7"/>
<line x1="508" y1="1072.52" x2="508" y2="1077.84" stroke="#cf5c72" stroke-width="1.7"/>
<path d="M362.31,1046.89 C363,1048.13 363.78,1053.3 366.44,1054.28 C369.1,1055.27 373.83,1053.2 378.27,1052.8 C382.7,1052.41 388.85,1051.92 393.04,1051.92 C397.23,1051.92 398.95,1053.25 403.38,1052.8 C407.82,1052.36 413.97,1050.98 419.64,1049.26 C425.3,1047.53 430.97,1044.83 437.37,1042.46 C443.77,1040.1 452.14,1036.8 458.06,1035.07 C463.97,1033.35 467.91,1032.36 472.83,1032.12 C477.76,1031.87 482.68,1032.61 487.61,1033.6 C492.53,1034.58 497.46,1036.06 502.38,1038.03 C507.31,1040 512.23,1043.2 517.16,1045.42 C522.08,1047.63 527.6,1049.75 531.94,1051.33 C536.27,1052.9 541.29,1054.28 543.16,1054.87" fill="none" stroke="#1a1a1a" stroke-width="3" stroke-linejoin="round" stroke-linecap="butt"/>
<path d="M362.31,1046.89 C363,1048.13 363.78,1053.2 366.44,1054.28 C369.1,1055.37 373.83,1053.64 378.27,1053.4 C382.7,1053.15 388.85,1052.56 393.04,1052.8 C397.23,1053.05 398.95,1054.97 403.38,1054.87 C407.82,1054.77 412.99,1052.9 419.64,1052.21 C426.29,1051.52 436.88,1050.64 443.28,1050.74 C449.68,1050.83 453.13,1051.38 458.06,1052.8 C462.98,1054.23 467.91,1056.84 472.83,1059.31 C477.76,1061.77 482.68,1065.22 487.61,1067.58 C492.53,1069.94 497.46,1071.77 502.38,1073.49 C507.31,1075.21 512.23,1076.69 517.16,1077.92 C522.08,1079.16 527.6,1080.14 531.94,1080.88 C536.27,1081.62 541.29,1082.11 543.16,1082.36" fill="none" stroke="#cf5c72" stroke-width="3" stroke-linejoin="round" stroke-linecap="butt"/>
<line x1="158.02" y1="1145.59" x2="158.02" y2="1152.4" stroke="#1a1a1a" stroke-width="1.7"/>
<line x1="164.22" y1="1141.93" x2="164.22" y2="1148.73" stroke="#1a1a1a" stroke-width="1.7"/>
<line x1="170.43" y1="1138.26" x2="170.43" y2="1145.07" stroke="#1a1a1a" stroke-width="1.7"/>
<line x1="176.63" y1="1134.77" x2="176.63" y2="1141.57" stroke="#1a1a1a" stroke-width="1.7"/>
<line x1="182.84" y1="1132.91" x2="182.84" y2="1139.71" stroke="#1a1a1a" stroke-width="1.7"/>
<line x1="189.05" y1="1131.25" x2="189.05" y2="1138.06" stroke="#1a1a1a" stroke-width="1.7"/>
<line x1="195.25" y1="1129.83" x2="195.25" y2="1136.63" stroke="#1a1a1a" stroke-width="1.7"/>
<line x1="201.46" y1="1128.4" x2="201.46" y2="1135.21" stroke="#1a1a1a" stroke-width="1.7"/>
<line x1="207.66" y1="1126.49" x2="207.66" y2="1133.3" stroke="#1a1a1a" stroke-width="1.7"/>
<line x1="213.87" y1="1123.21" x2="213.87" y2="1130.02" stroke="#1a1a1a" stroke-width="1.7"/>
<line x1="220.08" y1="1119.93" x2="220.08" y2="1126.74" stroke="#1a1a1a" stroke-width="1.7"/>
<line x1="226.28" y1="1118.85" x2="226.28" y2="1125.65" stroke="#1a1a1a" stroke-width="1.7"/>
<line x1="232.49" y1="1118.92" x2="232.49" y2="1125.72" stroke="#1a1a1a" stroke-width="1.7"/>
<line x1="238.69" y1="1119.46" x2="238.69" y2="1126.27" stroke="#1a1a1a" stroke-width="1.7"/>
<line x1="244.9" y1="1120.08" x2="244.9" y2="1126.89" stroke="#1a1a1a" stroke-width="1.7"/>
<line x1="251.11" y1="1121.25" x2="251.11" y2="1128.05" stroke="#1a1a1a" stroke-width="1.7"/>
<line x1="257.31" y1="1122.41" x2="257.31" y2="1129.22" stroke="#1a1a1a" stroke-width="1.7"/>
<line x1="263.52" y1="1123.96" x2="263.52" y2="1130.76" stroke="#1a1a1a" stroke-width="1.7"/>
<line x1="269.72" y1="1125.82" x2="269.72" y2="1132.63" stroke="#1a1a1a" stroke-width="1.7"/>
<line x1="275.93" y1="1129.42" x2="275.93" y2="1136.23" stroke="#1a1a1a" stroke-width="1.7"/>
<line x1="282.14" y1="1133.35" x2="282.14" y2="1140.15" stroke="#1a1a1a" stroke-width="1.7"/>
<line x1="288.34" y1="1137.69" x2="288.34" y2="1144.5" stroke="#1a1a1a" stroke-width="1.7"/>
<line x1="294.55" y1="1142.92" x2="294.55" y2="1149.72" stroke="#1a1a1a" stroke-width="1.7"/>
<line x1="300.75" y1="1148.56" x2="300.75" y2="1155.37" stroke="#1a1a1a" stroke-width="1.7"/>
<line x1="306.96" y1="1154.77" x2="306.96" y2="1161.57" stroke="#1a1a1a" stroke-width="1.7"/>
<line x1="313.16" y1="1160.67" x2="313.16" y2="1167.48" stroke="#1a1a1a" stroke-width="1.7"/>
<line x1="319.37" y1="1166.26" x2="319.37" y2="1173.06" stroke="#1a1a1a" stroke-width="1.7"/>
<line x1="325.58" y1="1170.69" x2="325.58" y2="1177.5" stroke="#1a1a1a" stroke-width="1.7"/>
<line x1="331.78" y1="1174.96" x2="331.78" y2="1181.77" stroke="#1a1a1a" stroke-width="1.7"/>
<line x1="156.02" y1="1151.38" x2="156.02" y2="1157.39" stroke="#cf5c72" stroke-width="1.7"/>
<line x1="162.22" y1="1147.71" x2="162.22" y2="1153.72" stroke="#cf5c72" stroke-width="1.7"/>
<line x1="168.43" y1="1144.05" x2="168.43" y2="1150.05" stroke="#cf5c72" stroke-width="1.7"/>
<line x1="174.63" y1="1140.38" x2="174.63" y2="1146.39" stroke="#cf5c72" stroke-width="1.7"/>
<line x1="180.84" y1="1138.11" x2="180.84" y2="1144.12" stroke="#cf5c72" stroke-width="1.7"/>
<line x1="187.04" y1="1136.35" x2="187.04" y2="1142.35" stroke="#cf5c72" stroke-width="1.7"/>
<line x1="193.25" y1="1135.11" x2="193.25" y2="1141.11" stroke="#cf5c72" stroke-width="1.7"/>
<line x1="199.46" y1="1133.87" x2="199.46" y2="1139.87" stroke="#cf5c72" stroke-width="1.7"/>
<line x1="205.66" y1="1132.63" x2="205.66" y2="1138.63" stroke="#cf5c72" stroke-width="1.7"/>
<line x1="211.87" y1="1129.23" x2="211.87" y2="1135.23" stroke="#cf5c72" stroke-width="1.7"/>
<line x1="218.07" y1="1125.68" x2="218.07" y2="1131.69" stroke="#cf5c72" stroke-width="1.7"/>
<line x1="224.28" y1="1123.7" x2="224.28" y2="1129.7" stroke="#cf5c72" stroke-width="1.7"/>
<line x1="230.49" y1="1123.24" x2="230.49" y2="1129.24" stroke="#cf5c72" stroke-width="1.7"/>
<line x1="236.69" y1="1124.01" x2="236.69" y2="1130.02" stroke="#cf5c72" stroke-width="1.7"/>
<line x1="242.9" y1="1124.79" x2="242.9" y2="1130.79" stroke="#cf5c72" stroke-width="1.7"/>
<line x1="249.1" y1="1126.02" x2="249.1" y2="1132.03" stroke="#cf5c72" stroke-width="1.7"/>
<line x1="255.31" y1="1127.37" x2="255.31" y2="1133.37" stroke="#cf5c72" stroke-width="1.7"/>
<line x1="270.12" y1="1136.05" x2="270.12" y2="1147.66" stroke="#cf5c72" stroke-width="1.7"/>
<line x1="279.53" y1="1144.03" x2="279.53" y2="1155.64" stroke="#cf5c72" stroke-width="1.7"/>
<line x1="288.94" y1="1151.6" x2="288.94" y2="1163.21" stroke="#cf5c72" stroke-width="1.7"/>
<line x1="298.35" y1="1159.95" x2="298.35" y2="1171.56" stroke="#cf5c72" stroke-width="1.7"/>
<line x1="307.76" y1="1168.42" x2="307.76" y2="1180.03" stroke="#cf5c72" stroke-width="1.7"/>
<line x1="317.17" y1="1176.19" x2="317.17" y2="1187.8" stroke="#cf5c72" stroke-width="1.7"/>
<line x1="326.58" y1="1182.59" x2="326.58" y2="1194.2" stroke="#cf5c72" stroke-width="1.7"/>
<line x1="335.99" y1="1188.47" x2="335.99" y2="1200.08" stroke="#cf5c72" stroke-width="1.7"/>
<path d="M154.01,1153.16 C157.68,1151 170.7,1142.82 176.03,1140.15 C181.37,1137.48 181.04,1138.42 186.04,1137.15 C191.05,1135.88 200.39,1134.55 206.06,1132.55 C211.73,1130.54 216.41,1126.61 220.08,1125.14 C223.75,1123.67 224.08,1123.74 228.08,1123.74 C232.09,1123.74 238.76,1124.4 244.1,1125.14 C249.44,1125.87 255.78,1127.14 260.11,1128.14 C264.45,1129.14 266.79,1129.64 270.12,1131.14 C273.46,1132.65 276.8,1134.98 280.13,1137.15 C283.47,1139.32 286.81,1141.49 290.14,1144.16 C293.48,1146.83 296.82,1150 300.15,1153.16 C303.49,1156.33 306.83,1160 310.16,1163.17 C313.5,1166.34 315.83,1168.85 320.17,1172.18 C324.51,1175.52 333.52,1181.36 336.19,1183.19" fill="none" stroke="#1a1a1a" stroke-width="3" stroke-linejoin="round" stroke-linecap="butt"/>
<path d="M154.01,1154.17 C157.68,1152 170.7,1143.82 176.03,1141.15 C181.37,1138.48 181.04,1139.32 186.04,1138.15 C191.05,1136.98 200.39,1136.15 206.06,1134.15 C211.73,1132.14 216.41,1127.74 220.08,1126.14 C223.75,1124.54 224.08,1124.47 228.08,1124.54 C232.09,1124.6 239.43,1125.77 244.1,1126.54 C248.77,1127.31 252.77,1128.04 256.11,1129.14 C259.45,1130.24 261.45,1131.48 264.12,1133.15 C266.79,1134.81 269.46,1136.98 272.13,1139.15 C274.8,1141.32 277.13,1143.66 280.13,1146.16 C283.14,1148.66 286.81,1151.33 290.14,1154.17 C293.48,1157 296.82,1160.17 300.15,1163.17 C303.49,1166.18 306.83,1169.35 310.16,1172.18 C313.5,1175.02 315.83,1177.19 320.17,1180.19 C324.51,1183.19 333.52,1188.53 336.19,1190.2" fill="none" stroke="#cf5c72" stroke-width="3" stroke-linejoin="round" stroke-linecap="butt"/>
<line x1="492.04" y1="1138.36" x2="492.04" y2="1145.45" stroke="#1a1a1a" stroke-width="1.7"/>
<line x1="498.04" y1="1140.95" x2="498.04" y2="1148.04" stroke="#1a1a1a" stroke-width="1.7"/>
<line x1="504.04" y1="1144.19" x2="504.04" y2="1151.28" stroke="#1a1a1a" stroke-width="1.7"/>
<line x1="510.04" y1="1147.65" x2="510.04" y2="1154.74" stroke="#1a1a1a" stroke-width="1.7"/>
<line x1="516.04" y1="1151.65" x2="516.04" y2="1158.74" stroke="#1a1a1a" stroke-width="1.7"/>
<line x1="522.04" y1="1155.65" x2="522.04" y2="1162.74" stroke="#1a1a1a" stroke-width="1.7"/>
<line x1="528.03" y1="1159.17" x2="528.03" y2="1166.26" stroke="#1a1a1a" stroke-width="1.7"/>
<line x1="534.03" y1="1161.76" x2="534.03" y2="1168.85" stroke="#1a1a1a" stroke-width="1.7"/>
<line x1="540.03" y1="1164.34" x2="540.03" y2="1171.44" stroke="#1a1a1a" stroke-width="1.7"/>
<line x1="413.73" y1="1168.46" x2="413.73" y2="1173.19" stroke="#cf5c72" stroke-width="1.7"/>
<line x1="419.64" y1="1165.99" x2="419.64" y2="1170.72" stroke="#cf5c72" stroke-width="1.7"/>
<path d="M362.31,1167.47 C363,1168.7 362.8,1174.26 366.44,1174.85 C370.09,1175.45 379,1171.9 384.18,1171.01 C389.35,1170.13 394.27,1169.44 397.47,1169.53 C400.68,1169.63 399.69,1172.34 403.38,1171.6 C407.08,1170.86 412.99,1167.42 419.64,1165.1 C426.29,1162.79 436.88,1159.93 443.28,1157.71 C449.68,1155.5 453.13,1154.27 458.06,1151.8 C462.98,1149.34 468.4,1144.66 472.83,1142.94 C477.26,1141.21 481.2,1141.56 484.65,1141.46 C488.1,1141.36 489.58,1140.87 493.52,1142.35 C497.46,1143.82 502.88,1147.03 508.29,1150.33 C513.71,1153.63 520.21,1158.95 526.02,1162.15 C531.84,1165.35 540.31,1168.3 543.16,1169.53" fill="none" stroke="#1a1a1a" stroke-width="3" stroke-linejoin="round" stroke-linecap="butt"/>
<path d="M362.31,1167.47 C363,1168.8 362.8,1174.71 366.44,1175.45 C370.09,1176.18 379,1172.64 384.18,1171.9 C389.35,1171.16 394.27,1170.67 397.47,1171.01 C400.68,1171.36 399.69,1174.61 403.38,1173.97 C407.08,1173.33 412.99,1169.73 419.64,1167.17 C426.29,1164.61 436.88,1160.92 443.28,1158.6 C449.68,1156.29 453.13,1154.66 458.06,1153.28 C462.98,1151.9 468.4,1150.72 472.83,1150.33 C477.26,1149.93 480.71,1149.93 484.65,1150.92 C488.59,1151.9 491.05,1153.87 496.47,1156.24 C501.89,1158.6 509.38,1161.8 517.16,1165.1 C524.94,1168.4 538.83,1174.21 543.16,1176.04" fill="none" stroke="#cf5c72" stroke-width="3" stroke-linejoin="round" stroke-linecap="butt"/>
<rect x="153.6" y="752.3" width="185.6" height="97.3" fill="none" stroke="#111111" stroke-width="2.2"/>
<rect x="362.1" y="752.3" width="186.2" height="97.3" fill="none" stroke="#111111" stroke-width="2.2"/>
<rect x="153.6" y="872.4" width="185.6" height="97.9" fill="none" stroke="#111111" stroke-width="2.2"/>
<rect x="362.1" y="872.4" width="186.2" height="97.9" fill="none" stroke="#111111" stroke-width="2.2"/>
<rect x="153.6" y="993.1" width="185.6" height="98" fill="none" stroke="#111111" stroke-width="2.2"/>
<rect x="362.1" y="993.1" width="186.2" height="98" fill="none" stroke="#111111" stroke-width="2.2"/>
<rect x="153.6" y="1113.6" width="185.6" height="98.3" fill="none" stroke="#111111" stroke-width="2.2"/>
<rect x="362.1" y="1113.6" width="186.2" height="98.3" fill="none" stroke="#111111" stroke-width="2.2"/>
<!-- panel f -->
<text x="618.5" y="681" font-size="33" text-anchor="start" fill="#050505" stroke="#050505" stroke-width="0.5">f</text>
<text x="883.4" y="739.2" font-size="24.6" text-anchor="middle" fill="#050505" stroke="#050505" stroke-width="0.5">A375−CD19</text>
<text x="1089.3" y="739.2" font-size="24.6" text-anchor="middle" fill="#050505" stroke="#050505" stroke-width="0.5">A375−WT</text>
<line x1="781.3" y1="770.6" x2="787.9" y2="770.6" stroke="#1a1a1a" stroke-width="2.1"/>
<text x="776.5" y="778.2" font-size="24.6" text-anchor="end" fill="#050505" stroke="#050505" stroke-width="0.5">100000</text>
<line x1="781.3" y1="814.1" x2="787.9" y2="814.1" stroke="#1a1a1a" stroke-width="2.1"/>
<text x="776.5" y="821.7" font-size="24.6" text-anchor="end" fill="#050505" stroke="#050505" stroke-width="0.5">75000</text>
<line x1="781.3" y1="857.6" x2="787.9" y2="857.6" stroke="#1a1a1a" stroke-width="2.1"/>
<text x="776.5" y="865.2" font-size="24.6" text-anchor="end" fill="#050505" stroke="#050505" stroke-width="0.5">50000</text>
<line x1="781.3" y1="901.1" x2="787.9" y2="901.1" stroke="#1a1a1a" stroke-width="2.1"/>
<text x="776.5" y="908.7" font-size="24.6" text-anchor="end" fill="#050505" stroke="#050505" stroke-width="0.5">25000</text>
<text x="1196.5" y="843.6" font-size="25" text-anchor="middle" fill="#050505" stroke="#050505" stroke-width="0.5" transform="rotate(90 1196.5 843.6)">Donor 1</text>
<line x1="781.3" y1="990.9" x2="787.9" y2="990.9" stroke="#1a1a1a" stroke-width="2.1"/>
<text x="776.5" y="998.5" font-size="24.6" text-anchor="end" fill="#050505" stroke="#050505" stroke-width="0.5">100000</text>
<line x1="781.3" y1="1034.4" x2="787.9" y2="1034.4" stroke="#1a1a1a" stroke-width="2.1"/>
<text x="776.5" y="1042" font-size="24.6" text-anchor="end" fill="#050505" stroke="#050505" stroke-width="0.5">75000</text>
<line x1="781.3" y1="1077.8" x2="787.9" y2="1077.8" stroke="#1a1a1a" stroke-width="2.1"/>
<text x="776.5" y="1085.4" font-size="24.6" text-anchor="end" fill="#050505" stroke="#050505" stroke-width="0.5">50000</text>
<line x1="781.3" y1="1121.3" x2="787.9" y2="1121.3" stroke="#1a1a1a" stroke-width="2.1"/>
<text x="776.5" y="1128.9" font-size="24.6" text-anchor="end" fill="#050505" stroke="#050505" stroke-width="0.5">25000</text>
<text x="1196.5" y="1062.8" font-size="25" text-anchor="middle" fill="#050505" stroke="#050505" stroke-width="0.5" transform="rotate(90 1196.5 1062.8)">Donor 2</text>
<line x1="796.9" y1="1150.3" x2="796.9" y2="1157.1" stroke="#1a1a1a" stroke-width="2.1"/>
<text x="796.9" y="1183.5" font-size="24.6" text-anchor="middle" fill="#050505" stroke="#050505" stroke-width="0.5">0</text>
<line x1="853.2" y1="1150.3" x2="853.2" y2="1157.1" stroke="#1a1a1a" stroke-width="2.1"/>
<text x="853.2" y="1183.5" font-size="24.6" text-anchor="middle" fill="#050505" stroke="#050505" stroke-width="0.5">50</text>
<line x1="909.5" y1="1150.3" x2="909.5" y2="1157.1" stroke="#1a1a1a" stroke-width="2.1"/>
<text x="909.5" y="1183.5" font-size="24.6" text-anchor="middle" fill="#050505" stroke="#050505" stroke-width="0.5">100</text>
<line x1="965.8" y1="1150.3" x2="965.8" y2="1157.1" stroke="#1a1a1a" stroke-width="2.1"/>
<text x="965.8" y="1183.5" font-size="24.6" text-anchor="middle" fill="#050505" stroke="#050505" stroke-width="0.5">150</text>
<line x1="1005.8" y1="1150.3" x2="1005.8" y2="1157.1" stroke="#1a1a1a" stroke-width="2.1"/>
<text x="1005.8" y="1183.5" font-size="24.6" text-anchor="middle" fill="#050505" stroke="#050505" stroke-width="0.5">0</text>
<line x1="1062" y1="1150.3" x2="1062" y2="1157.1" stroke="#1a1a1a" stroke-width="2.1"/>
<text x="1062" y="1183.5" font-size="24.6" text-anchor="middle" fill="#050505" stroke="#050505" stroke-width="0.5">50</text>
<line x1="1118.4" y1="1150.3" x2="1118.4" y2="1157.1" stroke="#1a1a1a" stroke-width="2.1"/>
<text x="1118.4" y="1183.5" font-size="24.6" text-anchor="middle" fill="#050505" stroke="#050505" stroke-width="0.5">100</text>
<line x1="1175" y1="1150.3" x2="1175" y2="1157.1" stroke="#1a1a1a" stroke-width="2.1"/>
<text x="1175" y="1183.5" font-size="24.6" text-anchor="middle" fill="#050505" stroke="#050505" stroke-width="0.5">150</text>
<text x="986.1" y="1219.8" font-size="29.3" text-anchor="middle" fill="#050505" stroke="#050505" stroke-width="0.5">Time [hours]</text>
<text x="683" y="953.2" font-size="29.1" text-anchor="middle" fill="#050505" stroke="#050505" stroke-width="0.5" transform="rotate(-90 683 953.2)">Cancer cell count</text>
<text x="1171.3" y="1095.5" font-size="20.8" text-anchor="end" fill="#cf5c72" stroke="#cf5c72" stroke-width="0.5">RASA2</text>
<text x="1171.3" y="1116.8" font-size="20.8" text-anchor="end" fill="#050505" stroke="#050505" stroke-width="0.5">CTRL</text>
<text x="1171.4" y="1136.3" font-size="20.9" text-anchor="end" fill="#6fbbdd" stroke="#6fbbdd" stroke-width="0.5">No T cells</text>
<path d="M796.93,917.78 C798.92,916.99 804.69,916.89 808.88,913.06 C813.08,909.23 817.75,903.1 822.1,894.81 C826.45,886.53 830.75,875.41 835,863.36 C839.24,851.3 843.38,834.52 847.58,822.46 C851.77,810.4 856.54,798.45 860.16,791 C863.78,783.56 866.3,780.72 869.29,777.79 C872.27,774.85 875.16,774.01 878.09,773.38 C881.03,772.76 883.7,773.59 886.9,774.01 C890.1,774.43 892.67,776.22 897.28,775.9 C901.9,775.59 908.56,773.28 914.59,772.13 C920.61,770.97 927.69,769.66 933.46,768.98 C939.23,768.3 943.68,767.98 949.19,768.04 C954.69,768.09 963.61,769.08 966.49,769.29" fill="none" stroke="#7cc4e4" stroke-width="2.8" stroke-linejoin="round" stroke-linecap="butt"/>
<path d="M796.93,917.78 C798.71,917.1 803.75,914.79 807.63,913.69 C811.51,912.59 814.97,911.59 820.21,911.17 C825.45,910.75 832.79,911.7 839.08,911.17 C845.38,910.65 851.67,909.97 857.96,908.03 C864.25,906.09 870.54,903.57 876.84,899.53 C883.13,895.5 889.42,890.62 895.71,883.8 C902,876.99 908.82,867.29 914.59,858.64 C920.35,849.99 925.07,840.29 930.31,831.9 C935.56,823.51 941.33,814.33 946.04,808.3 C950.76,802.27 955.22,798.76 958.63,795.72 C962.04,792.68 965.18,791 966.49,790.06" fill="none" stroke="#1a1a1a" stroke-width="2.8" stroke-linejoin="round" stroke-linecap="butt"/>
<path d="M796.93,919.35 C798.71,918.67 803.75,916.42 807.63,915.26 C811.51,914.11 814.97,912.9 820.21,912.43 C825.45,911.96 831.22,911.85 839.08,912.43 C846.95,913.01 857.44,914.9 867.4,915.89 C877.36,916.89 890.99,917.94 898.86,918.41 C906.72,918.88 909.34,918.88 914.59,918.72 C919.83,918.57 924.55,918.09 930.31,917.46 C936.08,916.84 943.16,915.89 949.19,914.95 C955.22,914 963.61,912.33 966.49,911.8" fill="none" stroke="#cf5c72" stroke-width="2.8" stroke-linejoin="round" stroke-linecap="butt"/>
<path d="M1005.82,917.78 C1008.44,916.05 1016.83,912.27 1021.54,907.4 C1026.26,902.52 1029.93,896.39 1034.13,888.52 C1038.32,880.66 1042.52,870.17 1046.71,860.21 C1050.91,850.25 1055.1,838.71 1059.29,828.75 C1063.49,818.79 1068.21,807.52 1071.88,800.44 C1075.55,793.36 1078.69,789.17 1081.32,786.28 C1083.94,783.4 1084.99,783.66 1087.61,783.14 C1090.23,782.61 1093.37,782.98 1097.04,783.14 C1100.71,783.29 1103.34,784.18 1109.63,784.08 C1115.92,783.98 1126.41,783.19 1134.8,782.51 C1143.18,781.83 1153.25,779.89 1159.96,779.99 C1166.67,780.1 1172.55,782.61 1175.06,783.14" fill="none" stroke="#7cc4e4" stroke-width="2.8" stroke-linejoin="round" stroke-linecap="butt"/>
<path d="M1005.82,916.84 C1008.44,915.52 1016.83,913.16 1021.54,908.97 C1026.26,904.78 1029.93,899.01 1034.13,891.67 C1038.32,884.33 1042.52,874.37 1046.71,864.93 C1050.91,855.49 1055.1,844.48 1059.29,835.04 C1063.49,825.61 1068.21,815.12 1071.88,808.3 C1075.55,801.49 1078.17,797.45 1081.32,794.15 C1084.46,790.84 1086.03,789.8 1090.75,788.48 C1095.47,787.17 1102.29,786.91 1109.63,786.28 C1116.97,785.65 1126.41,785.23 1134.8,784.71 C1143.18,784.18 1153.25,783.56 1159.96,783.14 C1166.67,782.72 1172.55,782.35 1175.06,782.19" fill="none" stroke="#1a1a1a" stroke-width="2.8" stroke-linejoin="round" stroke-linecap="butt"/>
<path d="M1005.82,920.61 C1008.44,919.19 1016.83,916.42 1021.54,912.12 C1026.26,907.82 1029.93,902.31 1034.13,894.81 C1038.32,887.32 1042.52,876.83 1046.71,867.13 C1050.91,857.43 1055.1,846.16 1059.29,836.62 C1063.49,827.07 1068.21,816.85 1071.88,809.88 C1075.55,802.9 1078.17,798.45 1081.32,794.78 C1084.46,791.11 1086.03,789.43 1090.75,787.86 C1095.47,786.28 1102.29,786.12 1109.63,785.34 C1116.97,784.55 1126.41,784.13 1134.8,783.14 C1143.18,782.14 1153.25,780.25 1159.96,779.36 C1166.67,778.47 1172.55,778.05 1175.06,777.79" fill="none" stroke="#cf5c72" stroke-width="2.8" stroke-linejoin="round" stroke-linecap="butt"/>
<path d="M796.93,1132.15 C798.92,1131.63 804.64,1131.73 808.88,1129.01 C813.13,1126.28 818.01,1122.71 822.41,1115.79 C826.82,1108.87 831.06,1099.02 835.31,1087.48 C839.56,1075.95 843.7,1059.17 847.89,1046.58 C852.09,1034 856.86,1020.37 860.48,1011.98 C864.09,1003.59 866.61,999.66 869.6,996.25 C872.59,992.84 875.52,992.27 878.41,991.53 C881.29,990.8 884.02,991.58 886.9,991.85 C889.79,992.11 891.1,993.42 895.71,993.1 C900.32,992.79 908.29,990.85 914.59,989.96 C920.88,989.07 927.69,988.28 933.46,987.76 C939.23,987.23 943.68,986.81 949.19,986.81 C954.69,986.81 963.61,987.6 966.49,987.76" fill="none" stroke="#7cc4e4" stroke-width="2.8" stroke-linejoin="round" stroke-linecap="butt"/>
<path d="M796.93,1132.15 C798.71,1131.52 803.75,1130.32 807.63,1128.38 C811.51,1126.44 815.49,1124.71 820.21,1120.51 C824.93,1116.32 830.7,1108.71 835.94,1103.21 C841.18,1097.7 846.43,1092.2 851.67,1087.48 C856.91,1082.76 862.15,1078.83 867.4,1074.9 C872.64,1070.96 877.88,1067.29 883.13,1063.89 C888.37,1060.48 893.61,1057.59 898.86,1054.45 C904.1,1051.3 909.34,1048.16 914.59,1045.01 C919.83,1041.87 925.07,1038.56 930.31,1035.57 C935.56,1032.59 940.01,1029.96 946.04,1027.08 C952.07,1024.2 963.08,1019.74 966.49,1018.27" fill="none" stroke="#1a1a1a" stroke-width="2.8" stroke-linejoin="round" stroke-linecap="butt"/>
<path d="M796.93,1139.39 C798.71,1138.34 803.75,1135.56 807.63,1133.1 C811.51,1130.63 815.49,1128.53 820.21,1124.6 C824.93,1120.67 830.7,1114.38 835.94,1109.5 C841.18,1104.63 846.43,1099.54 851.67,1095.35 C856.91,1091.15 862.15,1087.85 867.4,1084.33 C872.64,1080.82 877.88,1077.52 883.13,1074.27 C888.37,1071.02 893.61,1067.5 898.86,1064.83 C904.1,1062.16 909.34,1059.8 914.59,1058.22 C919.83,1056.65 924.55,1055.65 930.31,1055.39 C936.08,1055.13 943.16,1055.86 949.19,1056.65 C955.22,1057.44 963.61,1059.53 966.49,1060.11" fill="none" stroke="#cf5c72" stroke-width="2.8" stroke-linejoin="round" stroke-linecap="butt"/>
<path d="M1005.82,1139.39 C1008.44,1137.81 1016.83,1134.67 1021.54,1129.95 C1026.26,1125.23 1029.93,1118.68 1034.13,1111.07 C1038.32,1103.47 1042.52,1094.03 1046.71,1084.33 C1050.91,1074.63 1055.1,1063.36 1059.29,1052.88 C1063.49,1042.39 1068.21,1029.02 1071.88,1021.42 C1075.55,1013.82 1078.43,1010.41 1081.32,1007.26 C1084.2,1004.12 1086.3,1003.22 1089.18,1002.54 C1092.06,1001.86 1095.21,1002.91 1098.62,1003.17 C1102.03,1003.43 1103.6,1004.22 1109.63,1004.12 C1115.66,1004.01 1126.41,1002.91 1134.8,1002.54 C1143.18,1002.18 1153.25,1001.76 1159.96,1001.91 C1166.67,1002.07 1172.55,1003.22 1175.06,1003.49" fill="none" stroke="#7cc4e4" stroke-width="2.8" stroke-linejoin="round" stroke-linecap="butt"/>
<path d="M1005.82,1139.39 C1008.44,1137.81 1016.83,1134.41 1021.54,1129.95 C1026.26,1125.49 1029.93,1119.83 1034.13,1112.65 C1038.32,1105.46 1042.52,1096.29 1046.71,1086.85 C1050.91,1077.41 1055.1,1065.88 1059.29,1056.02 C1063.49,1046.16 1068.21,1034.79 1071.88,1027.71 C1075.55,1020.63 1078.17,1016.8 1081.32,1013.55 C1084.46,1010.3 1086.03,1009.52 1090.75,1008.2 C1095.47,1006.89 1102.29,1006.37 1109.63,1005.69 C1116.97,1005.01 1126.41,1004.74 1134.8,1004.12 C1143.18,1003.49 1153.25,1002.54 1159.96,1001.91 C1166.67,1001.28 1172.55,1000.6 1175.06,1000.34" fill="none" stroke="#1a1a1a" stroke-width="2.8" stroke-linejoin="round" stroke-linecap="butt"/>
<path d="M1005.82,1140.33 C1008.44,1138.86 1016.83,1135.87 1021.54,1131.52 C1026.26,1127.17 1029.93,1121.3 1034.13,1114.22 C1038.32,1107.14 1042.52,1098.49 1046.71,1089.05 C1050.91,1079.62 1055.1,1067.66 1059.29,1057.59 C1063.49,1047.53 1068.21,1035.84 1071.88,1028.65 C1075.55,1021.47 1078.17,1017.9 1081.32,1014.5 C1084.46,1011.09 1086.03,1009.78 1090.75,1008.2 C1095.47,1006.63 1102.29,1006 1109.63,1005.06 C1116.97,1004.12 1126.41,1003.33 1134.8,1002.54 C1143.18,1001.76 1153.25,1001.02 1159.96,1000.34 C1166.67,999.66 1172.55,998.77 1175.06,998.45" fill="none" stroke="#cf5c72" stroke-width="2.8" stroke-linejoin="round" stroke-linecap="butt"/>
<rect x="788.9" y="752.7" width="185.5" height="183.2" fill="none" stroke="#111111" stroke-width="2.2"/>
<rect x="997.5" y="752.7" width="185.7" height="183.2" fill="none" stroke="#111111" stroke-width="2.2"/>
<rect x="788.9" y="966.3" width="185.5" height="183" fill="none" stroke="#111111" stroke-width="2.2"/>
<rect x="997.5" y="966.3" width="185.7" height="183" fill="none" stroke="#111111" stroke-width="2.2"/>
<!-- panel g -->
<text x="1297" y="681" font-size="33" text-anchor="start" fill="#050505" stroke="#050505" stroke-width="0.5">g</text>
<text x="1588" y="739.2" font-size="24.6" text-anchor="middle" fill="#050505" stroke="#050505" stroke-width="0.5">A375−CD19</text>
<text x="1924.9" y="739.5" font-size="24.6" text-anchor="middle" fill="#050505" stroke="#050505" stroke-width="0.5">A375−WT</text>
<line x1="1430.2" y1="816.4" x2="1436.6" y2="816.4" stroke="#1a1a1a" stroke-width="2.1"/>
<text x="1424.4" y="824.7" font-size="23.6" text-anchor="end" fill="#050505" stroke="#050505" stroke-width="0.5">3e+07</text>
<line x1="1430.2" y1="927.8" x2="1436.6" y2="927.8" stroke="#1a1a1a" stroke-width="2.1"/>
<text x="1424.4" y="936.1" font-size="23.6" text-anchor="end" fill="#050505" stroke="#050505" stroke-width="0.5">2e+07</text>
<line x1="1430.2" y1="1039.2" x2="1436.6" y2="1039.2" stroke="#1a1a1a" stroke-width="2.1"/>
<text x="1424.4" y="1047.5" font-size="23.6" text-anchor="end" fill="#050505" stroke="#050505" stroke-width="0.5">1e+07</text>
<line x1="1430.2" y1="1150.5" x2="1436.6" y2="1150.5" stroke="#1a1a1a" stroke-width="2.1"/>
<text x="1424.4" y="1158.8" font-size="23.6" text-anchor="end" fill="#050505" stroke="#050505" stroke-width="0.5">0e+00</text>
<line x1="1481.2" y1="1151.5" x2="1481.2" y2="1160" stroke="#1a1a1a" stroke-width="2.1"/>
<text x="1481.2" y="1184.5" font-size="23.6" text-anchor="middle" fill="#050505" stroke="#050505" stroke-width="0.5">1:0.5</text>
<line x1="1553.9" y1="1151.5" x2="1553.9" y2="1160" stroke="#1a1a1a" stroke-width="2.1"/>
<text x="1553.9" y="1184.5" font-size="23.6" text-anchor="middle" fill="#050505" stroke="#050505" stroke-width="0.5">1:1</text>
<line x1="1626.7" y1="1151.5" x2="1626.7" y2="1160" stroke="#1a1a1a" stroke-width="2.1"/>
<text x="1626.7" y="1184.5" font-size="23.6" text-anchor="middle" fill="#050505" stroke="#050505" stroke-width="0.5">1:2</text>
<line x1="1699.5" y1="1151.5" x2="1699.5" y2="1160" stroke="#1a1a1a" stroke-width="2.1"/>
<text x="1699.5" y="1184.5" font-size="23.6" text-anchor="middle" fill="#050505" stroke="#050505" stroke-width="0.5">1:4</text>
<line x1="1809.3" y1="1151.5" x2="1809.3" y2="1160" stroke="#1a1a1a" stroke-width="2.1"/>
<text x="1809.3" y="1184.5" font-size="23.6" text-anchor="middle" fill="#050505" stroke="#050505" stroke-width="0.5">1:0.5</text>
<line x1="1882" y1="1151.5" x2="1882" y2="1160" stroke="#1a1a1a" stroke-width="2.1"/>
<text x="1882" y="1184.5" font-size="23.6" text-anchor="middle" fill="#050505" stroke="#050505" stroke-width="0.5">1:1</text>
<line x1="1954.8" y1="1151.5" x2="1954.8" y2="1160" stroke="#1a1a1a" stroke-width="2.1"/>
<text x="1954.8" y="1184.5" font-size="23.6" text-anchor="middle" fill="#050505" stroke="#050505" stroke-width="0.5">1:2</text>
<line x1="2027.6" y1="1151.5" x2="2027.6" y2="1160" stroke="#1a1a1a" stroke-width="2.1"/>
<text x="2027.6" y="1184.5" font-size="23.6" text-anchor="middle" fill="#050505" stroke="#050505" stroke-width="0.5">1:4</text>
<text x="1759" y="1220.3" font-size="28.8" text-anchor="middle" fill="#050505" stroke="#050505" stroke-width="0.5">E:T</text>
<text x="1338.2" y="951" font-size="29.1" text-anchor="middle" fill="#050505" stroke="#050505" stroke-width="0.5" transform="rotate(-90 1338.2 951)">AUC − A375 growth</text>
<text x="1445" y="780.8" font-size="24.6" text-anchor="start" fill="#cf5c72" stroke="#cf5c72" stroke-width="0.5">RASA2</text>
<text x="1445" y="805.9" font-size="24.6" text-anchor="start" fill="#050505" stroke="#050505" stroke-width="0.5">CTRL</text>
<rect x="1457.3" y="932.6" width="22.4" height="217.9" fill="#363636" stroke="#111" stroke-width="1.8"/>
<rect x="1530.1" y="925.3" width="22.4" height="225.2" fill="#363636" stroke="#111" stroke-width="1.8"/>
<rect x="1602.9" y="897.9" width="22.4" height="252.6" fill="#363636" stroke="#111" stroke-width="1.8"/>
<rect x="1675.7" y="856.8" width="22.4" height="293.7" fill="#363636" stroke="#111" stroke-width="1.8"/>
<rect x="1482.7" y="1029.3" width="22.4" height="121.2" fill="#d66070" stroke="#111" stroke-width="1.8"/>
<rect x="1555.5" y="978" width="22.4" height="172.5" fill="#d66070" stroke="#111" stroke-width="1.8"/>
<rect x="1628.3" y="937.3" width="22.4" height="213.2" fill="#d66070" stroke="#111" stroke-width="1.8"/>
<rect x="1701.1" y="901.7" width="22.4" height="248.8" fill="#d66070" stroke="#111" stroke-width="1.8"/>
<line x1="1468.3" y1="928.74" x2="1468.3" y2="936.62" stroke="#111" stroke-width="1.9"/>
<line x1="1466.1" y1="928.74" x2="1470.5" y2="928.74" stroke="#111" stroke-width="1.6"/>
<line x1="1466.1" y1="936.62" x2="1470.5" y2="936.62" stroke="#111" stroke-width="1.6"/>
<line x1="1541.1" y1="913.77" x2="1541.1" y2="937.41" stroke="#111" stroke-width="1.9"/>
<line x1="1538.9" y1="913.77" x2="1543.3" y2="913.77" stroke="#111" stroke-width="1.6"/>
<line x1="1538.9" y1="937.41" x2="1543.3" y2="937.41" stroke="#111" stroke-width="1.6"/>
<line x1="1566.63" y1="962.62" x2="1566.63" y2="993.35" stroke="#111" stroke-width="1.9"/>
<line x1="1564.43" y1="962.62" x2="1568.83" y2="962.62" stroke="#111" stroke-width="1.6"/>
<line x1="1564.43" y1="993.35" x2="1568.83" y2="993.35" stroke="#111" stroke-width="1.6"/>
<line x1="1613.91" y1="879.57" x2="1613.91" y2="916.92" stroke="#111" stroke-width="1.9"/>
<line x1="1611.71" y1="879.57" x2="1616.11" y2="879.57" stroke="#111" stroke-width="1.6"/>
<line x1="1611.71" y1="916.92" x2="1616.11" y2="916.92" stroke="#111" stroke-width="1.6"/>
<line x1="1639.28" y1="916.13" x2="1639.28" y2="958.68" stroke="#111" stroke-width="1.9"/>
<line x1="1637.08" y1="916.13" x2="1641.48" y2="916.13" stroke="#111" stroke-width="1.6"/>
<line x1="1637.08" y1="958.68" x2="1641.48" y2="958.68" stroke="#111" stroke-width="1.6"/>
<line x1="1686.88" y1="848.05" x2="1686.88" y2="865.7" stroke="#111" stroke-width="1.9"/>
<line x1="1684.68" y1="848.05" x2="1689.08" y2="848.05" stroke="#111" stroke-width="1.6"/>
<line x1="1684.68" y1="865.7" x2="1689.08" y2="865.7" stroke="#111" stroke-width="1.6"/>
<line x1="1712.41" y1="879.1" x2="1712.41" y2="924.01" stroke="#111" stroke-width="1.9"/>
<line x1="1710.21" y1="879.1" x2="1714.61" y2="879.1" stroke="#111" stroke-width="1.6"/>
<line x1="1710.21" y1="924.01" x2="1714.61" y2="924.01" stroke="#111" stroke-width="1.6"/>
<line x1="1493.8" y1="1023.1" x2="1493.8" y2="1039.1" stroke="#111" stroke-width="1.9"/>
<line x1="1491.6" y1="1023.1" x2="1496" y2="1023.1" stroke="#111" stroke-width="1.6"/>
<line x1="1491.6" y1="1039.1" x2="1496" y2="1039.1" stroke="#111" stroke-width="1.6"/>
<circle cx="1468.3" cy="928.42" r="4.3" fill="#111" fill-opacity="0.72"/>
<circle cx="1540" cy="905.57" r="4.3" fill="#111" fill-opacity="0.72"/>
<circle cx="1563.95" cy="990.99" r="4.3" fill="#111" fill-opacity="0.72"/>
<circle cx="1563.95" cy="1016.2" r="4.3" fill="#111" fill-opacity="0.72"/>
<circle cx="1611.23" cy="866.96" r="4.3" fill="#111" fill-opacity="0.72"/>
<circle cx="1615.17" cy="864.91" r="4.3" fill="#111" fill-opacity="0.72"/>
<circle cx="1640.39" cy="972.87" r="4.3" fill="#111" fill-opacity="0.72"/>
<circle cx="1640.39" cy="976.02" r="4.3" fill="#111" fill-opacity="0.72"/>
<circle cx="1685.3" cy="837.65" r="4.3" fill="#111" fill-opacity="0.72"/>
<circle cx="1683.72" cy="845.21" r="4.3" fill="#111" fill-opacity="0.72"/>
<circle cx="1712.09" cy="936.62" r="4.3" fill="#111" fill-opacity="0.72"/>
<circle cx="1710.52" cy="941.03" r="4.3" fill="#111" fill-opacity="0.72"/>
<polygon points="1465.46,922.89 1461.06,931.25 1469.86,931.25" fill="#111" fill-opacity="0.72"/>
<polygon points="1469.4,937.55 1465,945.91 1473.8,945.91" fill="#111" fill-opacity="0.72"/>
<polygon points="1540.32,939.44 1535.92,947.8 1544.72,947.8" fill="#111" fill-opacity="0.72"/>
<polygon points="1542.68,941.8 1538.28,950.16 1547.08,950.16" fill="#111" fill-opacity="0.72"/>
<polygon points="1569.47,942.91 1565.07,951.27 1573.87,951.27" fill="#111" fill-opacity="0.72"/>
<polygon points="1569.79,951.26 1565.39,959.62 1574.19,959.62" fill="#111" fill-opacity="0.72"/>
<polygon points="1610.44,927.15 1606.04,935.51 1614.84,935.51" fill="#111" fill-opacity="0.72"/>
<polygon points="1616.75,923.68 1612.35,932.04 1621.15,932.04" fill="#111" fill-opacity="0.72"/>
<polygon points="1635.66,887.75 1631.26,896.11 1640.06,896.11" fill="#111" fill-opacity="0.72"/>
<polygon points="1641.96,903.19 1637.56,911.55 1646.36,911.55" fill="#111" fill-opacity="0.72"/>
<polygon points="1686.88,860.64 1682.48,869 1691.28,869" fill="#111" fill-opacity="0.72"/>
<polygon points="1685.3,868.52 1680.9,876.88 1689.7,876.88" fill="#111" fill-opacity="0.72"/>
<polygon points="1715.72,845.99 1711.32,854.35 1720.12,854.35" fill="#111" fill-opacity="0.72"/>
<polygon points="1713.19,871.67 1708.79,880.03 1717.59,880.03" fill="#111" fill-opacity="0.72"/>
<circle cx="1490.6" cy="1040.1" r="4.3" fill="#111" fill-opacity="0.72"/>
<circle cx="1495.4" cy="1040.1" r="4.3" fill="#111" fill-opacity="0.72"/>
<polygon points="1495.8,1011.04 1491.4,1019.4 1500.2,1019.4" fill="#111" fill-opacity="0.72"/>
<polygon points="1494.5,1018.94 1490.1,1027.3 1498.9,1027.3" fill="#111" fill-opacity="0.72"/>
<rect x="1785.1" y="869.8" width="22.4" height="280.7" fill="#363636" stroke="#111" stroke-width="1.8"/>
<rect x="1858" y="870.6" width="22.4" height="279.9" fill="#363636" stroke="#111" stroke-width="1.8"/>
<rect x="1930.9" y="871.8" width="22.4" height="278.7" fill="#363636" stroke="#111" stroke-width="1.8"/>
<rect x="2003.8" y="873.2" width="22.4" height="277.3" fill="#363636" stroke="#111" stroke-width="1.8"/>
<rect x="1810.8" y="867.9" width="22.4" height="282.6" fill="#d66070" stroke="#111" stroke-width="1.8"/>
<rect x="1883.8" y="867.9" width="22.4" height="282.6" fill="#d66070" stroke="#111" stroke-width="1.8"/>
<rect x="1956.6" y="869.3" width="22.4" height="281.2" fill="#d66070" stroke="#111" stroke-width="1.8"/>
<rect x="2029.7" y="872.2" width="22.4" height="278.3" fill="#d66070" stroke="#111" stroke-width="1.8"/>
<line x1="1796.3" y1="868.3" x2="1796.3" y2="871.3" stroke="#111" stroke-width="1.9"/>
<circle cx="1794.73" cy="870.43" r="4.3" fill="#111" fill-opacity="0.72"/>
<circle cx="1795.52" cy="870.61" r="4.3" fill="#111" fill-opacity="0.72"/>
<polygon points="1797.05,861 1792.65,869.36 1801.45,869.36" fill="#111" fill-opacity="0.72"/>
<polygon points="1793.38,864.09 1788.98,872.45 1797.78,872.45" fill="#111" fill-opacity="0.72"/>
<line x1="1869.2" y1="869.1" x2="1869.2" y2="872.1" stroke="#111" stroke-width="1.9"/>
<circle cx="1867.76" cy="870.3" r="4.3" fill="#111" fill-opacity="0.72"/>
<circle cx="1872.17" cy="871.01" r="4.3" fill="#111" fill-opacity="0.72"/>
<polygon points="1871.22,863.45 1866.82,871.81 1875.62,871.81" fill="#111" fill-opacity="0.72"/>
<polygon points="1870.03,862.14 1865.63,870.5 1874.43,870.5" fill="#111" fill-opacity="0.72"/>
<line x1="1942.1" y1="870.3" x2="1942.1" y2="873.3" stroke="#111" stroke-width="1.9"/>
<circle cx="1942.91" cy="873.4" r="4.3" fill="#111" fill-opacity="0.72"/>
<circle cx="1942.24" cy="873.02" r="4.3" fill="#111" fill-opacity="0.72"/>
<polygon points="1943.13,863 1938.73,871.36 1947.53,871.36" fill="#111" fill-opacity="0.72"/>
<polygon points="1943.65,865.1 1939.25,873.46 1948.05,873.46" fill="#111" fill-opacity="0.72"/>
<line x1="2015" y1="871.7" x2="2015" y2="874.7" stroke="#111" stroke-width="1.9"/>
<circle cx="2013.81" cy="872.29" r="4.3" fill="#111" fill-opacity="0.72"/>
<circle cx="2017.19" cy="873.62" r="4.3" fill="#111" fill-opacity="0.72"/>
<polygon points="2016.31,867.66 2011.91,876.02 2020.71,876.02" fill="#111" fill-opacity="0.72"/>
<polygon points="2016.28,867.82 2011.88,876.18 2020.68,876.18" fill="#111" fill-opacity="0.72"/>
<line x1="1822" y1="866.4" x2="1822" y2="869.4" stroke="#111" stroke-width="1.9"/>
<circle cx="1821.37" cy="869.3" r="4.3" fill="#111" fill-opacity="0.72"/>
<circle cx="1821.67" cy="869.71" r="4.3" fill="#111" fill-opacity="0.72"/>
<polygon points="1824.27,859.23 1819.87,867.59 1828.67,867.59" fill="#111" fill-opacity="0.72"/>
<polygon points="1819.82,859.71 1815.42,868.07 1824.22,868.07" fill="#111" fill-opacity="0.72"/>
<line x1="1895" y1="866.4" x2="1895" y2="869.4" stroke="#111" stroke-width="1.9"/>
<circle cx="1897.79" cy="868.21" r="4.3" fill="#111" fill-opacity="0.72"/>
<circle cx="1895.76" cy="867.8" r="4.3" fill="#111" fill-opacity="0.72"/>
<polygon points="1895.04,860.38 1890.64,868.74 1899.44,868.74" fill="#111" fill-opacity="0.72"/>
<polygon points="1894.11,861.18 1889.71,869.54 1898.51,869.54" fill="#111" fill-opacity="0.72"/>
<line x1="1967.8" y1="867.8" x2="1967.8" y2="870.8" stroke="#111" stroke-width="1.9"/>
<circle cx="1968.31" cy="871.01" r="4.3" fill="#111" fill-opacity="0.72"/>
<circle cx="1968.89" cy="871.09" r="4.3" fill="#111" fill-opacity="0.72"/>
<polygon points="1969.94,864.2 1965.54,872.56 1974.34,872.56" fill="#111" fill-opacity="0.72"/>
<polygon points="1968.83,860.89 1964.43,869.25 1973.23,869.25" fill="#111" fill-opacity="0.72"/>
<line x1="2040.9" y1="870.7" x2="2040.9" y2="873.7" stroke="#111" stroke-width="1.9"/>
<circle cx="2043.06" cy="874.09" r="4.3" fill="#111" fill-opacity="0.72"/>
<circle cx="2043.33" cy="872.91" r="4.3" fill="#111" fill-opacity="0.72"/>
<polygon points="2042.18,863.98 2037.78,872.34 2046.58,872.34" fill="#111" fill-opacity="0.72"/>
<polygon points="2042.89,865.43 2038.49,873.79 2047.29,873.79" fill="#111" fill-opacity="0.72"/>
<rect x="1437.3" y="752.5" width="305.7" height="398" fill="none" stroke="#111111" stroke-width="2.2"/>
<rect x="1765.4" y="752.5" width="306.2" height="398" fill="none" stroke="#111111" stroke-width="2.2"/>
</svg>
</body>
</html>
